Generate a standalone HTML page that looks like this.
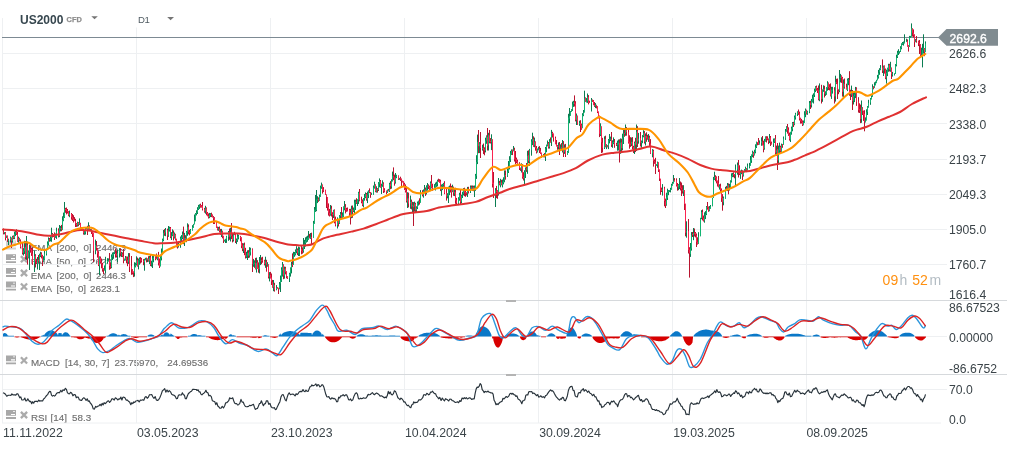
<!DOCTYPE html>
<html><head><meta charset="utf-8"><title>US2000 chart</title>
<style>
html,body{margin:0;padding:0;background:#fff;}
body{width:1009px;height:449px;overflow:hidden;position:relative;font-family:"Liberation Sans",Arial,sans-serif;}
#chart{position:absolute;left:0;top:0;}
#txt{position:absolute;left:0;top:0;}
text{font-family:"Liberation Sans",Arial,sans-serif;}
.ax{font-size:12.2px;fill:#3b4449;}
.dt{font-size:12.3px;fill:#3b4449;}
.lg{font-size:9.8px;fill:#707070;stroke:#707070;stroke-width:0.15px;}
</style></head><body>
<svg id="lgd" width="1009" height="449" viewBox="0 0 1009 449" style="position:absolute;left:0;top:0">
<!-- legends -->
<g id="lgicons">
<path d="M6 240.5h10v5.8h-10z M6 247.6h10v1.8h-10z" fill="#cfcfcf"/><path d="M11 244.4h4v1.1h-4z M13 241.6h2v0.7h-2z" fill="#fff"/><path d="M20.9 242.4L27.1 248.6M27.1 242.4L20.9 248.6" stroke="#d4d4d4" stroke-width="2.3"/><path d="M6 254.2h10v5.8h-10z M6 261.3h10v1.8h-10z" fill="#a8a8a8"/><path d="M11 258.1h4v1.1h-4z M13 255.3h2v0.7h-2z" fill="#fff"/><path d="M20.9 256.1L27.1 262.3M27.1 256.1L20.9 262.3" stroke="#ababab" stroke-width="2.3"/><path d="M6 268.0h10v5.8h-10z M6 275.1h10v1.8h-10z" fill="#a8a8a8"/><path d="M11 271.9h4v1.1h-4z M13 269.1h2v0.7h-2z" fill="#fff"/><path d="M20.9 269.9L27.1 276.1M27.1 269.9L20.9 276.1" stroke="#ababab" stroke-width="2.3"/><path d="M6 281.6h10v5.8h-10z M6 288.7h10v1.8h-10z" fill="#a8a8a8"/><path d="M11 285.5h4v1.1h-4z M13 282.7h2v0.7h-2z" fill="#fff"/><path d="M20.9 283.5L27.1 289.7M27.1 283.5L20.9 289.7" stroke="#ababab" stroke-width="2.3"/><path d="M6 355.4h10v5.8h-10z M6 362.5h10v1.8h-10z" fill="#a8a8a8"/><path d="M11 359.3h4v1.1h-4z M13 356.5h2v0.7h-2z" fill="#fff"/><path d="M20.9 357.3L27.1 363.5M27.1 357.3L20.9 363.5" stroke="#ababab" stroke-width="2.3"/><path d="M6 410.0h10v5.8h-10z M6 417.1h10v1.8h-10z" fill="#a8a8a8"/><path d="M11 413.9h4v1.1h-4z M13 411.1h2v0.7h-2z" fill="#fff"/><path d="M20.9 411.9L27.1 418.1M27.1 411.9L20.9 418.1" stroke="#ababab" stroke-width="2.3"/>
</g>
<g class="lg">
<text x="30.8" y="251.1">EMA</text><text x="56.6" y="251.1">[200,</text><text x="83.4" y="251.1">0]</text><text x="96" y="251.1">2446.3</text>
<text x="30.8" y="264.8">EMA</text><text x="56.6" y="264.8">[50,</text><text x="77.9" y="264.8">0]</text><text x="90" y="264.8">2623.1</text>
<text x="30.8" y="278.6">EMA</text><text x="56.6" y="278.6">[200,</text><text x="83.4" y="278.6">0]</text><text x="96" y="278.6">2446.3</text>
<text x="30.8" y="292.2">EMA</text><text x="56.6" y="292.2">[50,</text><text x="77.9" y="292.2">0]</text><text x="90" y="292.2">2623.1</text>
<text x="30.9" y="366">MACD</text><text x="65.1" y="366">[14,</text><text x="84.4" y="366">30,</text><text x="101.3" y="366">7]</text><text x="114.6" y="366">23.75970,</text><text x="167.3" y="366">24.69536</text>
<text x="30.9" y="420.6">RSI</text><text x="50.6" y="420.6">[14]</text><text x="72.1" y="420.6">58.3</text>
</g>
</svg>
<div id="chart"><svg width="1009" height="449" viewBox="0 0 1009 449">
<path d="M2 53.5H947 M2 88.5H947 M2 123.5H947 M2 159.5H947 M2 194.5H947 M2 229.5H947 M2 264.5H947 M2.5 18V423 M136.5 18V423 M270.5 18V423 M404.5 18V423 M538.5 18V423 M672.5 18V423 M806.5 18V423 M2 336.5H947 M2 389.5H947 M2 423H941 " stroke="#eef0f2" stroke-width="1" fill="none"/>
<path d="M0 300.5H1007 M0 374.5H1007" stroke="#d6d9dc" stroke-width="1"/>
<rect x="506" y="300" width="10" height="2" fill="#b4b4b4"/>
<rect x="506" y="374" width="10" height="2" fill="#b4b4b4"/>
<path d="M2 37.5H940" stroke="#7d8a93" stroke-width="1.2"/>
<path d="M4.5 232.2V234.3M6.5 235.5V237.9M8.5 238.7V245.0M10.5 236.6V242.5M12.5 235.8V242.6M14.5 231.6V239.1M15.5 230.7V236.1M18.5 236.6V242.8M23.5 248.1V255.5M24.5 240.8V254.0M26.5 236.0V259.9M28.5 250.4V258.4M29.5 244.7V270.0M34.5 250.5V272.0M37.5 257.0V269.5M39.5 253.7V270.0M40.5 251.8V257.1M43.5 256.2V261.7M44.5 250.7V260.0M46.5 249.0V255.5M47.5 241.4V249.8M48.5 237.4V245.1M50.5 236.1V241.4M51.5 227.7V241.8M55.5 233.5V237.8M56.5 227.7V238.9M59.5 225.0V237.1M60.5 225.9V231.4M62.5 216.3V230.1M63.5 212.6V221.2M64.5 202.0V217.9M69.5 210.6V217.2M77.5 221.7V226.6M79.5 218.4V224.9M84.5 231.1V234.8M85.5 227.6V234.5M86.5 227.5V229.4M88.5 222.3V230.9M90.5 228.9V230.8M95.5 239.6V254.3M99.5 256.4V275.0M104.5 265.4V270.5M105.5 256.8V273.3M107.5 258.2V263.5M108.5 258.4V261.1M111.5 254.4V268.2M112.5 252.5V260.1M113.5 252.2V258.8M114.5 251.3V254.1M117.5 249.5V262.0M119.5 248.2V257.5M121.5 251.8V257.0M124.5 258.6V260.8M125.5 256.0V260.5M128.5 253.1V263.9M134.5 262.2V276.6M135.5 262.7V267.4M136.5 256.3V265.5M138.5 258.6V269.4M139.5 257.4V264.8M144.5 258.8V270.7M145.5 257.8V260.3M147.5 258.5V262.1M149.5 256.0V264.1M151.5 260.7V266.6M152.5 255.7V268.0M153.5 254.7V262.3M157.5 255.2V260.3M160.5 254.7V266.3M161.5 248.5V260.4M162.5 238.6V254.5M163.5 230.0V241.2M165.5 228.0V236.2M168.5 226.0V236.8M169.5 226.7V231.6M171.5 232.1V240.0M172.5 229.3V236.2M174.5 232.5V238.5M178.5 242.2V247.5M180.5 236.5V247.8M181.5 235.1V242.0M182.5 231.5V239.2M184.5 232.9V246.0M186.5 230.9V242.2M187.5 223.3V235.8M190.5 229.0V233.8M192.5 225.2V230.5M193.5 223.9V227.7M194.5 214.5V224.4M195.5 213.1V221.3M196.5 210.3V215.4M197.5 207.2V214.0M198.5 204.9V210.0M199.5 204.3V208.9M205.5 205.8V213.7M209.5 212.9V218.2M210.5 213.1V217.1M218.5 226.9V230.8M221.5 228.9V237.0M224.5 239.7V241.4M225.5 238.8V243.0M226.5 235.8V242.9M228.5 231.0V240.8M230.5 227.8V241.5M233.5 233.1V241.5M236.5 238.5V244.1M237.5 233.9V241.9M238.5 234.7V239.4M243.5 243.3V253.0M246.5 251.8V258.1M247.5 250.3V260.0M249.5 247.2V257.6M250.5 247.7V255.5M253.5 258.9V266.8M254.5 260.3V267.8M256.5 257.6V272.6M259.5 257.0V273.4M260.5 255.0V265.1M265.5 256.7V267.8M267.5 262.2V266.7M269.5 272.1V281.4M273.5 280.0V291.2M276.5 285.1V290.3M279.5 282.0V289.3M280.5 275.5V292.0M281.5 267.3V281.9M282.5 262.0V276.6M284.5 266.6V278.7M289.5 272.8V282.0M290.5 267.4V276.6M291.5 261.8V273.4M293.5 251.8V265.0M294.5 252.0V256.8M295.5 249.4V255.4M296.5 246.2V253.3M298.5 246.6V256.0M299.5 247.2V256.0M303.5 238.0V252.7M304.5 239.9V249.0M305.5 237.3V246.6M306.5 236.5V242.6M307.5 235.7V241.8M308.5 231.0V239.8M310.5 233.0V238.9M313.5 220.9V237.7M314.5 207.0V223.7M315.5 195.0V211.9M316.5 190.0V211.2M317.5 196.2V203.1M319.5 194.6V200.8M320.5 185.6V196.8M321.5 182.6V188.8M330.5 205.0V215.7M333.5 209.8V218.0M337.5 217.4V228.5M339.5 215.1V224.0M340.5 212.0V220.0M342.5 212.4V218.5M343.5 206.4V216.9M344.5 201.0V210.3M351.5 205.7V218.2M353.5 207.5V212.1M354.5 199.7V213.7M355.5 199.7V210.0M357.5 199.3V206.0M358.5 191.8V204.0M363.5 198.0V207.3M364.5 194.0V200.7M365.5 192.4V198.2M367.5 191.6V203.1M368.5 190.3V198.1M371.5 192.7V195.0M373.5 185.5V194.8M374.5 181.7V188.6M376.5 186.3V192.6M378.5 182.1V191.0M379.5 178.4V187.3M381.5 183.7V194.0M382.5 180.3V186.8M387.5 189.6V193.0M389.5 182.8V192.0M391.5 179.3V188.7M392.5 171.6V181.5M395.5 173.0V183.6M396.5 174.8V178.2M399.5 177.9V179.9M407.5 192.2V208.0M410.5 195.6V208.8M412.5 201.8V212.2M414.5 201.6V211.7M416.5 206.3V212.3M417.5 201.5V209.1M418.5 200.6V205.6M420.5 190.1V202.6M423.5 189.4V197.7M424.5 185.0V192.6M426.5 185.3V194.5M427.5 183.0V190.7M430.5 181.4V191.1M434.5 184.1V189.1M435.5 182.6V190.5M436.5 181.7V186.9M437.5 179.7V186.4M441.5 184.5V195.8M442.5 183.9V190.1M443.5 182.9V186.8M447.5 193.2V198.3M448.5 186.6V203.0M449.5 185.6V195.2M452.5 184.7V192.2M454.5 188.7V196.1M458.5 197.2V205.1M459.5 192.8V200.7M461.5 194.7V203.3M462.5 191.8V198.0M463.5 188.1V195.4M467.5 186.9V197.0M470.5 185.5V193.0M472.5 185.5V190.9M474.5 185.5V197.0M475.5 173.9V190.8M476.5 155.2V178.9M477.5 134.6V164.1M479.5 142.1V153.1M482.5 144.7V150.6M485.5 137.7V152.4M486.5 135.4V143.8M488.5 132.8V150.5M491.5 134.3V150.1M495.5 188.1V207.0M498.5 178.0V195.6M500.5 178.8V187.3M502.5 179.5V187.4M503.5 177.3V184.4M504.5 170.4V182.3M507.5 168.3V176.9M508.5 161.0V173.0M509.5 156.2V169.4M510.5 150.9V162.0M511.5 149.4V154.9M513.5 146.0V151.3M521.5 163.3V172.5M524.5 170.2V185.4M525.5 167.4V178.0M527.5 150.8V173.8M529.5 148.9V165.9M531.5 139.2V155.7M532.5 132.7V145.1M534.5 137.6V147.3M537.5 148.5V152.5M538.5 146.8V150.3M543.5 154.1V157.3M545.5 147.0V161.0M546.5 144.6V152.2M547.5 140.5V146.3M549.5 139.1V148.6M551.5 129.9V146.0M558.5 142.5V149.6M560.5 144.4V150.1M562.5 140.0V152.5M564.5 144.4V153.9M567.5 150.9V155.0M568.5 113.8V152.8M569.5 108.0V123.2M570.5 111.1V115.7M571.5 109.2V111.8M572.5 101.6V110.9M573.5 100.8V106.9M576.5 113.5V125.0M579.5 120.7V125.8M582.5 113.2V128.1M583.5 110.0V116.2M584.5 90.7V112.4M586.5 98.1V102.5M587.5 93.5V102.9M591.5 98.0V111.5M595.5 103.1V108.1M600.5 123.3V136.0M604.5 136.3V149.0M606.5 144.2V149.1M608.5 139.0V149.1M609.5 134.0V143.4M610.5 136.6V141.0M612.5 140.3V147.8M613.5 137.4V144.2M617.5 140.6V150.7M618.5 139.5V150.5M620.5 138.4V153.8M622.5 133.7V150.3M623.5 128.2V144.0M625.5 124.5V135.8M631.5 137.5V146.1M634.5 141.6V154.0M636.5 124.5V151.0M638.5 132.9V143.7M641.5 140.5V147.8M642.5 135.1V143.2M643.5 130.2V137.3M645.5 133.4V145.5M648.5 134.0V141.9M652.5 149.1V157.3M656.5 164.2V165.8M657.5 161.5V167.8M662.5 184.1V195.6M666.5 192.7V205.7M667.5 188.7V200.0M668.5 190.1V195.2M669.5 190.1V192.1M670.5 187.8V192.4M671.5 183.8V189.7M672.5 181.9V185.6M673.5 175.0V183.6M678.5 184.1V190.2M679.5 178.0V189.1M683.5 185.2V196.0M686.5 221.3V237.7M690.5 243.0V256.9M691.5 232.1V250.6M693.5 228.0V240.2M698.5 232.2V243.8M700.5 217.8V236.2M701.5 210.2V219.2M704.5 212.3V222.7M705.5 211.1V219.1M706.5 206.0V215.1M709.5 206.0V211.3M710.5 205.0V208.7M712.5 197.8V206.2M713.5 176.9V198.0M714.5 171.7V180.0M719.5 184.3V189.6M723.5 196.5V205.3M725.5 186.8V198.7M727.5 183.0V191.1M729.5 183.9V190.5M730.5 180.3V188.1M731.5 173.3V182.5M732.5 173.0V177.2M735.5 164.5V185.0M737.5 162.5V174.7M740.5 170.6V178.9M741.5 169.6V174.2M743.5 170.9V176.5M744.5 169.1V172.3M745.5 166.7V171.2M747.5 163.5V170.6M749.5 162.9V168.4M750.5 156.0V165.7M751.5 154.4V162.9M752.5 150.7V157.2M754.5 149.7V155.5M755.5 144.3V153.3M756.5 141.6V148.0M759.5 140.4V144.6M761.5 137.3V145.8M764.5 138.9V149.7M765.5 136.4V141.7M769.5 134.0V143.1M773.5 138.5V147.0M774.5 138.4V143.0M776.5 145.6V155.8M778.5 145.6V164.5M779.5 142.6V154.1M781.5 143.6V151.8M783.5 136.5V144.7M785.5 129.0V139.9M786.5 126.2V131.7M790.5 131.8V142.0M791.5 126.6V134.7M792.5 122.0V131.3M794.5 115.5V125.2M795.5 112.8V119.6M797.5 111.3V116.0M803.5 120.5V125.2M804.5 111.2V122.9M805.5 108.5V117.2M807.5 110.8V114.8M809.5 101.0V113.2M811.5 98.9V107.5M812.5 94.7V102.5M813.5 93.3V103.5M814.5 88.6V97.0M815.5 86.2V92.1M819.5 83.4V101.2M822.5 89.4V101.8M823.5 85.3V91.8M825.5 91.3V95.9M826.5 87.2V94.8M827.5 81.2V90.7M831.5 86.8V98.9M832.5 86.8V93.6M835.5 75.7V101.6M839.5 70.0V92.2M840.5 73.9V82.4M843.5 79.4V99.0M847.5 78.5V91.1M848.5 78.0V85.2M851.5 85.6V97.0M853.5 92.4V104.5M854.5 91.4V102.1M855.5 86.9V98.1M861.5 100.5V122.8M865.5 117.4V122.5M866.5 109.3V120.4M867.5 106.1V115.0M868.5 99.8V107.7M870.5 98.0V104.8M871.5 95.4V99.5M872.5 84.3V96.7M874.5 82.3V87.8M875.5 81.5V85.4M876.5 79.8V83.1M877.5 74.9V80.3M878.5 69.9V78.6M879.5 68.2V74.8M880.5 65.1V70.2M883.5 65.6V76.0M886.5 69.7V83.6M887.5 67.7V76.1M888.5 63.8V71.8M890.5 61.8V71.8M892.5 71.9V76.6M894.5 73.4V75.5M895.5 64.1V74.0M896.5 54.7V66.4M897.5 50.8V58.0M898.5 49.2V55.0M899.5 51.4V53.6M900.5 46.2V52.0M901.5 43.3V49.3M902.5 42.0V45.1M903.5 41.5V45.6M904.5 34.3V43.5M906.5 38.7V42.1M909.5 35.9V47.0M910.5 35.9V37.9M911.5 23.4V36.6M915.5 39.1V42.2M921.5 47.7V56.3M922.5 43.8V67.4M923.5 34.3V53.6M925.5 41.4V52.1" stroke="#0b7d52" stroke-width="1" fill="none"/>
<path d="M3.5 228.5V234.4M5.5 232.1V240.4M7.5 235.5V241.9M11.5 237.5V248.0M13.5 235.4V239.2M16.5 229.3V234.9M17.5 232.0V241.8M19.5 237.8V241.4M20.5 239.4V248.4M22.5 242.0V254.5M25.5 241.0V259.4M27.5 241.6V264.6M30.5 245.2V252.7M31.5 248.0V255.9M32.5 247.4V264.8M35.5 254.2V267.5M36.5 258.8V264.0M38.5 255.0V262.7M41.5 252.3V258.4M42.5 254.8V266.0M49.5 238.0V241.7M52.5 233.0V237.5M53.5 234.1V237.0M54.5 232.4V240.0M58.5 228.3V237.4M61.5 224.9V231.2M65.5 207.9V212.8M66.5 207.5V214.4M67.5 209.0V213.5M68.5 211.2V216.2M71.5 213.0V219.7M72.5 214.0V221.0M73.5 215.2V222.5M74.5 217.1V221.2M75.5 218.8V227.0M76.5 223.1V226.9M78.5 222.1V226.2M80.5 222.8V229.3M81.5 227.0V230.3M83.5 229.2V234.6M87.5 225.8V235.0M89.5 225.3V230.5M91.5 229.2V234.0M92.5 231.8V237.0M93.5 232.9V262.0M96.5 241.0V250.3M97.5 247.9V257.6M98.5 251.2V266.1M100.5 256.5V263.5M101.5 258.5V268.3M102.5 263.0V271.7M103.5 268.2V274.1M109.5 253.0V269.8M110.5 262.6V268.9M115.5 248.5V257.6M116.5 250.6V257.5M120.5 248.2V256.4M122.5 252.4V257.1M123.5 249.0V263.3M126.5 256.5V263.3M127.5 256.5V266.2M129.5 253.1V272.0M131.5 256.0V274.8M132.5 269.2V274.5M133.5 271.4V277.1M137.5 257.6V266.6M140.5 257.1V263.5M141.5 257.9V262.5M143.5 259.1V265.2M146.5 257.6V262.4M148.5 256.2V261.7M150.5 255.1V266.1M155.5 256.2V260.3M156.5 253.5V259.2M158.5 251.9V265.5M159.5 258.5V268.0M164.5 229.1V235.8M167.5 228.7V240.0M170.5 227.0V238.2M173.5 230.5V240.4M175.5 233.8V240.4M176.5 238.7V247.3M177.5 243.2V248.6M183.5 226.6V244.2M185.5 235.2V241.5M188.5 224.4V234.3M189.5 229.8V235.4M200.5 203.7V207.7M201.5 205.1V207.6M202.5 202.0V210.5M204.5 207.9V212.6M206.5 207.4V215.3M207.5 212.0V216.3M208.5 213.4V218.5M211.5 212.7V217.1M212.5 214.4V217.5M213.5 216.1V224.0M214.5 217.2V224.0M216.5 221.0V227.8M217.5 226.6V230.5M219.5 226.5V232.5M220.5 228.9V234.8M222.5 230.7V238.3M223.5 235.8V243.0M229.5 228.5V239.8M231.5 223.0V239.1M232.5 233.8V242.4M234.5 231.8V235.1M235.5 233.5V243.0M240.5 235.9V241.3M241.5 237.3V248.2M242.5 243.1V251.2M244.5 242.6V255.2M245.5 247.8V258.5M248.5 250.1V258.0M252.5 248.4V272.0M255.5 257.9V269.4M257.5 260.1V268.8M258.5 262.4V272.7M261.5 257.4V264.2M262.5 256.8V262.7M264.5 259.8V265.4M266.5 259.8V271.7M268.5 264.3V278.5M270.5 271.9V278.5M271.5 273.5V285.0M272.5 279.9V287.7M274.5 282.8V291.6M277.5 287.1V288.6M278.5 287.8V294.0M283.5 264.3V279.2M285.5 266.8V274.4M286.5 271.3V278.3M287.5 276.3V278.9M292.5 253.4V267.1M297.5 248.4V255.1M301.5 245.5V254.3M302.5 247.3V253.7M309.5 233.9V238.4M311.5 232.7V244.0M318.5 197.4V201.8M322.5 184.5V193.6M323.5 187.1V192.1M325.5 189.7V194.9M326.5 194.4V208.0M327.5 197.0V210.6M328.5 203.4V215.6M329.5 208.9V216.5M331.5 205.7V216.5M332.5 212.2V220.0M334.5 209.4V223.4M335.5 216.6V226.4M338.5 219.2V226.5M341.5 207.0V218.1M345.5 204.1V213.4M346.5 207.8V211.8M347.5 207.5V211.4M349.5 208.9V216.2M350.5 208.8V224.5M352.5 205.5V217.8M356.5 198.2V203.9M359.5 189.0V201.3M361.5 196.7V203.3M362.5 199.4V206.2M366.5 193.0V200.7M369.5 188.4V193.1M370.5 192.0V197.8M375.5 184.3V192.2M377.5 188.1V192.6M380.5 180.0V187.7M383.5 182.3V193.0M384.5 188.2V192.4M386.5 190.5V194.3M388.5 188.9V191.3M390.5 181.1V189.2M393.5 167.4V180.2M394.5 174.6V185.7M398.5 175.4V180.0M400.5 176.7V180.9M401.5 178.5V186.0M402.5 180.7V182.5M403.5 181.3V186.6M404.5 182.8V189.9M405.5 184.4V192.5M406.5 186.3V202.5M408.5 192.6V207.4M411.5 199.6V209.4M413.5 202.1V226.0M415.5 202.8V212.2M419.5 198.3V204.6M422.5 190.2V196.4M425.5 187.5V195.9M428.5 184.4V189.1M429.5 185.7V190.3M431.5 175.0V188.4M432.5 183.7V190.8M438.5 178.7V182.0M439.5 179.2V182.8M440.5 179.7V191.1M444.5 181.2V194.2M446.5 187.6V200.6M450.5 183.5V192.5M451.5 185.9V197.6M453.5 186.6V195.8M455.5 187.8V203.8M456.5 197.9V204.9M460.5 190.0V204.2M464.5 187.7V196.2M465.5 190.2V196.8M466.5 192.3V195.5M468.5 186.8V193.5M471.5 185.5V190.0M473.5 185.7V191.2M478.5 130.0V153.2M480.5 132.0V158.0M483.5 143.5V154.1M484.5 147.3V155.3M487.5 128.0V150.5M489.5 130.0V143.3M490.5 138.1V143.5M492.5 139.4V187.5M493.5 172.0V198.0M496.5 185.9V198.1M497.5 190.2V198.8M499.5 180.9V185.3M501.5 179.8V185.3M505.5 170.4V179.7M512.5 149.5V155.1M514.5 147.7V161.5M515.5 151.0V164.0M516.5 157.6V163.2M517.5 159.6V164.9M519.5 162.2V170.0M520.5 167.6V170.9M522.5 164.1V178.7M523.5 172.2V180.5M526.5 163.0V171.9M528.5 150.3V163.2M533.5 136.3V146.8M535.5 141.4V150.7M536.5 146.0V153.5M539.5 146.1V153.0M540.5 147.9V153.9M541.5 152.6V157.9M544.5 153.0V157.4M548.5 142.0V148.6M550.5 137.4V142.7M552.5 131.8V137.5M553.5 133.6V141.6M555.5 136.6V144.3M556.5 140.0V146.5M557.5 145.1V149.8M559.5 142.0V155.0M561.5 143.1V150.2M563.5 141.1V157.0M565.5 143.9V157.0M574.5 95.4V106.5M575.5 101.2V121.4M577.5 115.7V124.8M580.5 120.2V132.0M581.5 123.6V129.8M585.5 97.4V101.8M588.5 95.1V104.4M589.5 100.7V103.0M592.5 99.5V101.9M593.5 100.1V105.2M594.5 102.0V106.9M596.5 104.8V108.4M597.5 106.3V113.1M598.5 111.6V118.4M599.5 115.6V137.1M601.5 126.5V153.0M602.5 137.8V152.5M605.5 135.7V147.3M607.5 145.2V147.3M611.5 132.0V146.9M614.5 139.0V147.8M616.5 142.8V146.0M619.5 139.3V162.5M621.5 138.7V153.1M624.5 128.8V136.8M626.5 127.1V135.7M628.5 129.1V143.6M629.5 135.3V148.7M630.5 137.2V146.9M632.5 137.1V149.5M633.5 145.8V153.0M635.5 137.8V152.1M637.5 126.2V147.0M640.5 132.0V146.5M644.5 131.1V143.6M646.5 132.3V141.8M647.5 134.8V139.7M649.5 135.7V145.9M650.5 139.1V153.9M653.5 149.7V166.6M654.5 159.4V163.8M655.5 157.8V174.0M658.5 162.4V172.0M659.5 169.6V181.0M660.5 178.8V194.8M661.5 187.6V192.0M664.5 186.8V206.3M665.5 198.6V208.0M674.5 178.1V181.6M676.5 178.3V186.5M677.5 183.0V190.7M680.5 181.5V190.5M681.5 182.5V196.0M682.5 185.2V193.6M684.5 190.0V210.0M685.5 203.8V236.3M688.5 219.0V253.5M689.5 247.2V277.6M692.5 232.0V237.0M694.5 228.5V236.5M695.5 232.0V237.4M696.5 233.5V247.0M697.5 237.3V244.6M702.5 209.5V220.4M703.5 215.5V221.5M707.5 202.0V209.7M708.5 206.5V211.8M715.5 175.2V181.3M716.5 176.4V183.4M717.5 180.5V186.5M718.5 176.0V187.4M720.5 183.7V193.1M721.5 188.4V201.9M722.5 194.1V210.7M726.5 185.9V189.7M728.5 183.4V194.3M733.5 172.3V177.2M734.5 174.1V178.3M738.5 160.0V177.5M739.5 165.3V175.1M742.5 170.3V180.0M746.5 168.2V172.1M753.5 151.8V157.8M757.5 142.1V145.3M758.5 138.0V144.9M762.5 136.0V145.5M763.5 140.7V152.3M766.5 136.2V142.5M767.5 136.3V140.3M768.5 138.5V144.1M770.5 136.0V146.0M771.5 141.6V144.6M775.5 135.0V156.0M777.5 143.0V170.0M780.5 145.7V152.6M782.5 144.1V147.8M787.5 124.0V133.6M788.5 127.3V135.9M789.5 132.6V140.6M793.5 121.8V127.0M798.5 109.5V114.9M799.5 111.6V120.5M800.5 117.7V123.6M801.5 118.9V123.5M802.5 120.4V126.0M806.5 109.7V114.5M810.5 100.8V109.0M816.5 85.6V90.7M817.5 87.9V93.0M818.5 85.5V100.3M821.5 84.8V103.5M824.5 85.8V97.5M828.5 82.5V90.0M829.5 84.2V90.4M830.5 83.4V96.4M834.5 87.2V103.5M836.5 78.8V84.1M837.5 78.5V99.0M838.5 89.3V94.2M841.5 75.4V82.9M842.5 76.9V96.6M844.5 78.5V88.7M846.5 83.7V89.6M849.5 71.2V95.8M850.5 89.7V100.0M852.5 90.0V110.0M856.5 87.3V105.9M858.5 97.2V112.6M859.5 103.3V113.0M860.5 104.6V123.1M862.5 107.2V115.0M863.5 110.6V120.9M864.5 110.2V131.3M873.5 86.3V89.3M882.5 59.4V73.0M884.5 65.4V73.6M885.5 68.5V79.2M889.5 63.8V71.4M891.5 67.5V79.0M907.5 39.4V46.7M908.5 45.2V51.6M912.5 28.3V36.6M913.5 29.4V37.5M914.5 34.3V47.0M916.5 36.0V42.7M918.5 40.6V46.1M919.5 40.0V54.0M920.5 44.2V57.1M924.5 48.1V56.2" stroke="#b8142f" stroke-width="1" fill="none"/>
<path d="M4.5 232.2V233.2M6.5 236.4V237.4M8.5 239.8V240.8M10.5 237.7V239.9M12.5 236.8V241.0M14.5 234.0V238.1M15.5 232.1V233.5M18.5 238.3V240.5M23.5 250.5V252.8M24.5 247.5V251.2M26.5 244.4V256.2M28.5 252.2V257.7M29.5 249.8V252.3M34.5 256.1V263.5M37.5 259.7V263.9M39.5 255.3V261.8M40.5 254.1V255.8M43.5 259.6V261.3M44.5 253.5V259.6M46.5 249.7V253.8M47.5 243.6V249.7M48.5 239.4V243.5M50.5 238.3V239.6M51.5 234.0V238.0M55.5 236.2V237.2M56.5 231.0V236.6M59.5 228.2V236.2M60.5 228.0V229.0M62.5 220.1V230.0M63.5 217.1V220.5M64.5 208.7V217.0M69.5 213.4V215.1M77.5 222.7V225.3M79.5 223.1V224.2M84.5 232.4V233.4M85.5 228.5V232.3M86.5 227.4V228.4M88.5 226.1V230.0M90.5 229.5V230.5M95.5 244.9V250.4M99.5 257.0V265.7M104.5 269.4V270.4M105.5 261.4V270.5M107.5 261.0V262.0M108.5 259.8V260.8M111.5 256.9V267.3M112.5 254.1V256.9M113.5 253.5V254.7M114.5 252.3V253.3M117.5 253.2V255.6M119.5 250.1V253.5M121.5 253.4V254.4M124.5 259.0V260.0M125.5 257.8V259.6M128.5 256.4V261.7M134.5 266.2V273.1M135.5 264.7V266.4M136.5 260.3V264.0M138.5 260.4V265.7M139.5 259.2V260.2M144.5 259.9V262.2M145.5 258.8V259.8M147.5 258.8V260.0M149.5 257.6V260.7M151.5 263.5V264.5M152.5 258.5V263.2M153.5 257.8V258.8M157.5 255.7V259.0M160.5 257.7V266.3M161.5 252.3V258.1M162.5 239.8V252.0M163.5 232.9V240.0M165.5 230.1V232.5M168.5 230.4V235.8M169.5 227.9V230.0M171.5 235.6V236.6M172.5 233.1V235.5M174.5 234.4V237.5M178.5 244.3V246.6M180.5 238.5V244.4M181.5 237.4V239.1M182.5 233.9V237.8M184.5 237.8V240.3M186.5 231.9V239.6M187.5 227.2V232.3M190.5 230.1V233.8M192.5 227.1V230.5M193.5 224.4V227.7M194.5 220.8V224.1M195.5 213.7V220.8M196.5 212.5V213.8M197.5 209.3V212.6M198.5 206.6V209.2M199.5 205.5V206.7M205.5 208.3V211.3M209.5 214.7V217.3M210.5 214.2V215.2M218.5 228.4V229.4M221.5 231.6V234.7M224.5 240.3V241.3M225.5 239.5V240.5M226.5 236.6V239.6M228.5 232.0V237.0M230.5 231.9V237.2M233.5 234.7V240.1M236.5 240.2V241.2M237.5 236.8V240.2M238.5 236.3V237.3M243.5 244.8V249.2M246.5 255.5V256.5M247.5 253.0V255.7M249.5 251.8V255.7M250.5 249.8V252.4M253.5 263.7V264.7M254.5 262.6V263.8M256.5 263.0V269.1M259.5 261.4V269.3M260.5 260.3V261.6M265.5 261.6V263.6M267.5 264.6V265.6M269.5 275.5V276.6M273.5 284.4V287.2M276.5 287.8V289.2M279.5 284.3V288.6M280.5 280.1V283.4M281.5 269.6V280.7M282.5 264.8V270.2M284.5 268.7V275.7M289.5 273.7V278.3M290.5 268.3V273.7M291.5 265.2V268.5M293.5 254.5V265.0M294.5 253.7V254.7M295.5 251.2V254.3M296.5 249.6V250.8M298.5 250.3V253.3M299.5 249.2V250.2M303.5 244.8V251.2M304.5 243.7V244.9M305.5 240.8V243.1M306.5 238.8V241.3M307.5 238.5V239.5M308.5 237.0V239.2M310.5 236.7V237.7M313.5 223.2V237.7M314.5 209.7V223.7M315.5 209.6V210.6M316.5 199.5V210.0M317.5 198.8V199.8M319.5 196.3V200.8M320.5 187.7V196.2M321.5 185.3V187.2M330.5 209.0V214.6M333.5 210.4V215.3M337.5 220.2V225.0M339.5 216.3V223.8M340.5 213.8V216.0M342.5 215.6V217.9M343.5 207.0V216.2M344.5 206.7V207.7M351.5 209.1V216.9M353.5 209.8V211.2M354.5 202.5V210.5M355.5 201.6V202.6M357.5 199.9V202.4M358.5 192.7V200.0M363.5 198.6V205.3M364.5 197.2V198.2M365.5 194.3V197.0M367.5 195.2V199.7M368.5 191.5V194.8M371.5 193.5V194.7M373.5 187.6V193.8M374.5 185.0V187.5M376.5 189.3V191.5M378.5 183.5V189.9M379.5 181.1V183.7M381.5 185.8V187.4M382.5 183.2V185.2M387.5 190.3V192.6M389.5 184.2V191.1M391.5 181.0V186.6M392.5 175.7V180.8M395.5 177.3V182.3M396.5 175.5V176.9M399.5 178.6V179.6M407.5 198.5V201.6M410.5 202.0V203.4M412.5 204.8V206.6M414.5 203.6V206.5M416.5 207.8V210.2M417.5 202.9V207.4M418.5 201.2V202.5M420.5 193.3V202.6M423.5 190.8V195.3M424.5 189.5V191.3M426.5 186.9V191.5M427.5 185.6V186.6M430.5 183.1V188.9M434.5 187.1V188.1M435.5 185.0V187.7M436.5 184.2V185.2M437.5 181.0V183.8M441.5 186.2V190.1M442.5 184.6V185.7M443.5 183.6V184.6M447.5 195.2V196.2M448.5 190.3V195.7M449.5 188.8V190.8M452.5 189.5V191.8M454.5 191.9V193.6M458.5 198.8V203.3M459.5 194.8V198.9M461.5 195.8V201.7M462.5 194.4V195.4M463.5 190.1V193.9M467.5 190.2V193.3M470.5 187.4V191.6M472.5 187.5V189.1M474.5 187.4V189.8M475.5 175.6V188.2M476.5 161.9V175.9M477.5 142.0V162.0M479.5 143.5V146.3M482.5 148.1V149.1M485.5 140.5V150.7M486.5 136.3V140.7M488.5 135.2V145.0M491.5 139.0V142.0M495.5 190.2V194.4M498.5 183.4V193.2M500.5 182.4V184.9M502.5 182.8V185.2M503.5 180.8V182.8M504.5 175.4V180.1M507.5 171.5V175.8M508.5 168.2V171.5M509.5 159.8V168.0M510.5 153.4V159.5M511.5 150.8V153.8M513.5 149.6V150.6M521.5 164.5V169.6M524.5 172.1V178.7M525.5 169.5V172.2M527.5 155.8V170.4M529.5 150.3V161.9M531.5 141.5V150.3M532.5 139.2V141.3M534.5 142.0V145.4M537.5 149.6V151.6M538.5 148.7V149.7M543.5 155.1V156.1M545.5 148.6V156.7M546.5 145.4V148.2M547.5 143.8V145.7M549.5 141.3V147.0M551.5 133.3V141.9M558.5 145.8V146.8M560.5 147.8V148.8M562.5 143.8V148.7M564.5 147.5V151.9M567.5 151.7V155.0M568.5 117.6V152.8M569.5 116.0V118.7M570.5 111.6V115.7M571.5 110.1V111.5M572.5 104.5V109.6M573.5 102.4V104.1M576.5 115.8V119.9M579.5 123.0V124.0M582.5 114.9V128.1M583.5 112.6V115.2M584.5 98.4V112.4M586.5 100.7V101.9M587.5 97.2V101.0M591.5 100.3V103.1M595.5 104.8V105.8M600.5 126.3V134.8M604.5 139.1V147.9M606.5 145.3V146.8M608.5 140.1V146.6M609.5 138.8V139.8M610.5 138.6V139.6M612.5 142.5V144.6M613.5 142.0V143.0M617.5 143.7V144.8M618.5 142.5V144.5M620.5 142.7V149.9M622.5 137.7V148.2M623.5 133.5V137.5M625.5 129.9V133.2M631.5 141.9V143.7M634.5 143.0V150.0M636.5 131.8V144.8M638.5 138.7V140.6M641.5 141.7V143.1M642.5 136.7V141.0M643.5 133.0V136.0M645.5 136.0V142.1M648.5 137.7V138.7M652.5 150.3V153.4M656.5 164.3V165.3M657.5 162.6V165.1M662.5 189.2V190.9M666.5 197.4V204.8M667.5 191.8V197.9M668.5 190.9V191.9M669.5 190.4V191.4M670.5 189.4V190.4M671.5 185.2V189.4M672.5 183.2V185.3M673.5 180.8V183.1M678.5 184.7V187.4M679.5 184.6V185.6M683.5 189.6V191.7M686.5 231.4V232.4M690.5 248.4V254.1M691.5 235.2V248.6M693.5 233.0V235.0M698.5 236.5V243.8M700.5 218.3V236.2M701.5 212.1V218.0M704.5 216.1V220.7M705.5 214.3V215.6M706.5 206.8V214.1M709.5 208.4V210.6M710.5 206.3V208.6M712.5 198.3V206.2M713.5 179.9V198.0M714.5 176.9V179.6M719.5 186.2V187.2M723.5 198.1V202.3M725.5 188.6V198.6M727.5 184.9V188.5M729.5 188.1V189.6M730.5 181.4V187.4M731.5 175.9V181.4M732.5 174.5V176.4M735.5 169.3V175.1M737.5 165.1V169.6M740.5 172.9V174.4M741.5 171.7V172.7M743.5 171.7V175.6M744.5 169.9V171.6M745.5 168.6V170.2M747.5 166.5V169.9M749.5 165.5V166.5M750.5 160.2V165.5M751.5 155.1V160.6M752.5 152.3V155.2M754.5 152.1V155.0M755.5 147.0V151.9M756.5 142.0V146.8M759.5 143.0V144.0M761.5 141.1V142.8M764.5 141.4V148.4M765.5 137.1V141.3M769.5 137.9V141.1M773.5 141.9V144.1M774.5 139.4V141.7M776.5 150.2V152.5M778.5 149.6V160.5M779.5 147.1V150.3M781.5 144.9V151.4M783.5 138.6V144.7M785.5 131.3V138.4M786.5 127.2V131.0M790.5 132.1V139.7M791.5 128.5V132.5M792.5 123.0V129.0M794.5 117.3V124.5M795.5 114.0V117.5M797.5 112.2V114.0M803.5 122.5V125.2M804.5 114.7V122.9M805.5 110.1V114.2M807.5 111.4V113.4M809.5 103.1V111.7M811.5 101.1V105.2M812.5 98.3V101.5M813.5 95.4V98.6M814.5 90.8V95.0M815.5 86.7V90.6M819.5 89.8V99.6M822.5 90.1V99.0M823.5 89.0V90.0M825.5 92.7V93.7M826.5 88.2V93.6M827.5 83.2V88.4M831.5 89.7V96.0M832.5 89.6V90.6M835.5 81.8V96.4M839.5 78.8V90.8M840.5 76.8V77.9M843.5 83.3V91.7M847.5 80.4V89.9M848.5 79.5V80.5M851.5 91.5V94.8M853.5 96.0V100.7M854.5 94.4V96.2M855.5 89.7V93.8M861.5 107.4V119.0M865.5 120.4V122.0M866.5 112.2V120.4M867.5 107.1V112.0M868.5 102.9V106.8M870.5 98.6V102.6M871.5 96.9V99.0M872.5 87.0V96.7M874.5 85.0V86.8M875.5 83.1V84.8M876.5 80.4V83.1M877.5 77.0V80.2M878.5 72.9V77.2M879.5 69.8V72.3M880.5 67.7V69.5M883.5 66.5V70.9M886.5 73.1V77.5M887.5 68.4V73.7M888.5 65.5V69.0M890.5 67.5V70.3M892.5 73.8V74.8M894.5 73.5V74.5M895.5 65.4V73.9M896.5 57.6V65.0M897.5 52.9V57.2M898.5 51.9V52.9M899.5 51.3V52.3M900.5 48.1V51.4M901.5 44.3V48.2M902.5 43.0V44.4M903.5 42.5V43.5M904.5 41.9V42.9M906.5 40.9V41.9M909.5 37.4V47.0M910.5 36.5V37.5M911.5 28.2V36.6M915.5 40.5V41.8M921.5 54.8V55.8M922.5 49.9V55.5M923.5 47.9V49.5M925.5 43.5V52.1" stroke="#12b472" stroke-width="1" fill="none"/>
<path d="M3.5 231.7V232.7M5.5 233.0V237.7M7.5 236.2V240.2M11.5 238.2V240.9M13.5 236.4V238.0M16.5 231.8V233.9M17.5 234.2V241.0M19.5 238.5V240.5M20.5 240.8V247.0M22.5 246.7V252.7M25.5 246.8V257.4M27.5 245.1V257.8M30.5 248.7V249.7M31.5 249.5V253.4M32.5 253.5V263.5M35.5 255.5V261.3M36.5 262.2V263.2M38.5 259.9V261.3M41.5 253.7V255.8M42.5 255.6V261.0M49.5 239.3V240.3M52.5 234.0V235.4M53.5 234.5V235.5M54.5 234.5V237.7M58.5 230.5V235.7M61.5 228.1V229.4M65.5 209.0V210.0M66.5 209.4V211.2M67.5 210.8V211.8M68.5 211.6V215.4M71.5 213.8V217.1M72.5 216.7V218.7M73.5 218.5V220.3M74.5 220.0V221.0M75.5 221.0V223.8M76.5 224.0V225.2M78.5 222.6V224.5M80.5 223.2V227.8M81.5 227.9V230.1M83.5 229.7V233.1M87.5 227.3V229.9M89.5 226.2V229.8M91.5 229.4V231.3M92.5 231.8V234.1M93.5 232.9V250.8M96.5 245.9V247.9M97.5 248.8V253.5M98.5 253.3V265.1M100.5 257.9V261.8M101.5 262.0V263.9M102.5 264.5V269.3M103.5 268.7V269.7M109.5 259.8V265.9M110.5 266.3V267.3M115.5 253.0V254.4M116.5 254.2V255.9M120.5 250.0V253.4M122.5 253.9V256.0M123.5 256.1V260.5M126.5 257.1V259.9M127.5 260.1V262.4M129.5 256.9V267.0M131.5 266.2V269.5M132.5 270.3V272.9M133.5 271.8V272.8M137.5 260.1V266.1M140.5 259.2V260.5M141.5 259.7V260.7M143.5 260.7V262.2M146.5 258.5V259.5M148.5 258.8V260.7M150.5 257.3V264.7M155.5 257.6V258.6M156.5 257.8V258.8M158.5 255.4V262.9M159.5 262.8V266.4M164.5 232.4V233.4M167.5 229.8V235.6M170.5 228.0V236.7M173.5 233.0V237.2M175.5 234.5V239.3M176.5 239.2V245.6M177.5 245.7V246.7M183.5 234.3V239.9M185.5 238.0V239.4M188.5 226.8V231.8M189.5 232.0V233.2M200.5 205.1V206.5M201.5 205.7V206.7M202.5 205.8V209.1M204.5 209.2V211.6M206.5 208.3V213.0M207.5 212.9V215.7M208.5 216.0V217.3M211.5 214.6V215.6M212.5 215.4V217.0M213.5 217.3V218.4M214.5 218.2V223.0M216.5 222.9V227.5M217.5 227.7V229.4M219.5 228.7V231.2M220.5 231.6V234.4M222.5 231.3V236.4M223.5 236.0V240.7M229.5 232.2V236.6M231.5 231.4V236.0M232.5 236.4V240.0M234.5 233.8V234.8M235.5 234.4V240.8M240.5 236.7V238.2M241.5 237.8V245.9M242.5 245.4V248.7M244.5 244.8V251.5M245.5 250.9V256.4M248.5 252.6V255.6M252.5 249.4V264.0M255.5 262.9V268.7M257.5 262.2V268.2M258.5 267.7V269.1M261.5 260.1V261.1M262.5 259.7V260.7M264.5 260.6V264.2M266.5 261.8V264.8M268.5 264.8V276.7M270.5 274.9V277.9M271.5 277.4V281.5M272.5 282.1V287.3M274.5 285.0V289.7M277.5 287.3V288.3M278.5 288.2V289.2M283.5 265.2V275.4M285.5 268.4V272.0M286.5 271.6V276.4M287.5 276.6V278.0M292.5 264.2V265.2M297.5 249.9V252.7M301.5 249.2V250.9M302.5 251.2V252.2M309.5 236.7V237.7M311.5 237.1V238.3M318.5 198.7V200.6M322.5 184.8V190.2M323.5 189.4V190.4M325.5 190.2V194.3M326.5 195.0V196.9M327.5 197.0V207.2M328.5 207.1V212.5M329.5 212.9V215.2M331.5 208.5V213.9M332.5 214.1V215.1M334.5 210.3V219.4M335.5 219.1V224.5M338.5 220.2V223.2M341.5 214.4V217.5M345.5 206.8V210.0M346.5 209.4V210.4M347.5 209.6V210.6M349.5 209.9V213.0M350.5 212.3V217.5M352.5 209.7V211.8M356.5 201.7V202.8M359.5 192.5V200.4M361.5 200.1V201.8M362.5 201.4V204.8M366.5 194.0V199.2M369.5 191.0V192.0M370.5 192.4V194.8M375.5 185.1V191.2M377.5 188.8V189.9M380.5 181.3V187.1M383.5 183.6V191.1M384.5 190.3V191.3M386.5 191.2V192.4M388.5 190.1V191.1M390.5 183.8V186.1M393.5 176.3V177.4M394.5 177.4V182.9M398.5 175.8V179.4M400.5 178.4V179.4M401.5 179.2V180.9M402.5 180.9V181.9M403.5 181.6V184.9M404.5 184.2V188.7M405.5 188.8V191.2M406.5 191.3V200.9M408.5 198.3V203.6M411.5 201.7V206.7M413.5 205.6V207.2M415.5 204.2V210.1M419.5 201.4V202.4M422.5 192.8V195.1M425.5 189.6V191.8M428.5 185.8V186.8M429.5 186.7V189.4M431.5 182.8V187.7M432.5 187.2V188.2M438.5 180.7V181.7M439.5 180.8V181.8M440.5 181.5V189.4M444.5 183.5V193.3M446.5 192.8V196.6M450.5 188.9V189.9M451.5 190.0V192.4M453.5 189.9V192.9M455.5 192.3V200.5M456.5 200.3V202.9M460.5 195.2V201.8M464.5 190.5V192.4M465.5 192.0V193.3M466.5 192.5V193.5M468.5 190.2V191.6M471.5 187.3V188.6M473.5 187.1V189.7M478.5 141.5V146.2M480.5 144.0V148.0M483.5 147.8V149.9M484.5 149.2V150.5M487.5 136.8V146.0M489.5 135.4V141.6M490.5 141.1V142.1M492.5 139.4V184.0M493.5 182.6V195.5M496.5 190.8V191.8M497.5 190.8V193.5M499.5 182.9V184.3M501.5 182.3V184.6M505.5 175.1V176.1M512.5 150.2V151.2M514.5 149.8V159.3M515.5 158.6V159.6M516.5 159.3V161.7M517.5 161.4V164.2M519.5 164.5V168.2M520.5 168.3V169.3M522.5 165.1V177.3M523.5 176.9V177.9M526.5 168.5V169.5M528.5 155.2V161.1M533.5 138.9V145.9M535.5 142.2V148.1M536.5 148.0V152.0M539.5 149.0V150.4M540.5 150.8V153.2M541.5 153.0V155.4M544.5 155.5V156.5M548.5 143.2V147.3M550.5 140.7V141.7M552.5 132.9V133.9M553.5 133.7V137.7M555.5 138.0V143.8M556.5 144.2V146.0M557.5 145.8V147.1M559.5 145.3V148.3M561.5 147.3V148.3M563.5 144.3V152.4M565.5 147.5V154.5M574.5 102.3V103.9M575.5 103.5V119.8M577.5 115.8V123.8M580.5 123.3V125.5M581.5 125.2V128.7M585.5 98.0V101.4M588.5 96.8V102.9M589.5 102.1V103.1M592.5 100.3V101.3M593.5 100.6V104.8M594.5 104.9V105.9M596.5 105.3V106.3M597.5 106.3V112.0M598.5 111.6V117.1M599.5 116.8V133.8M601.5 126.5V142.4M602.5 142.7V147.9M605.5 138.8V146.5M607.5 145.9V146.9M611.5 138.9V144.8M614.5 141.6V144.6M616.5 144.2V145.2M619.5 143.3V150.7M621.5 142.3V148.2M624.5 132.9V133.9M626.5 130.1V132.0M628.5 132.2V142.4M629.5 141.7V144.6M630.5 143.7V144.7M632.5 141.8V147.1M633.5 147.3V149.8M635.5 141.9V144.6M637.5 130.9V141.5M640.5 138.1V142.7M644.5 132.8V141.6M646.5 136.0V138.3M647.5 137.5V138.5M649.5 137.5V142.7M650.5 143.5V153.2M653.5 150.8V160.9M654.5 161.2V162.4M655.5 162.3V165.5M658.5 162.4V170.1M659.5 169.6V178.6M660.5 178.8V190.4M661.5 189.7V190.9M664.5 188.4V201.0M665.5 201.3V205.3M674.5 180.0V181.0M676.5 180.3V185.3M677.5 185.4V186.7M680.5 185.3V188.1M681.5 187.7V189.3M682.5 190.2V191.2M684.5 190.0V204.1M685.5 203.8V232.8M688.5 231.2V250.1M689.5 249.6V252.9M692.5 234.0V235.0M694.5 232.7V233.7M695.5 233.1V234.7M696.5 235.4V241.9M697.5 241.8V243.8M702.5 212.0V217.8M703.5 218.2V220.5M707.5 206.5V207.5M708.5 207.5V210.4M715.5 177.1V178.1M716.5 177.4V181.2M717.5 181.0V183.5M718.5 183.1V186.8M720.5 186.3V190.1M721.5 190.2V198.2M722.5 197.9V201.9M726.5 188.4V189.4M728.5 185.3V190.0M733.5 174.0V175.0M734.5 174.5V175.5M738.5 165.0V170.8M739.5 170.0V174.2M742.5 172.4V175.8M746.5 169.1V170.2M753.5 152.6V155.1M757.5 142.0V143.0M758.5 142.2V144.3M762.5 141.6V144.9M763.5 144.6V149.0M766.5 137.8V138.8M767.5 138.4V139.5M768.5 139.4V141.5M770.5 137.5V142.6M771.5 142.8V143.8M775.5 138.6V152.7M777.5 149.0V160.4M780.5 147.0V151.0M782.5 144.5V145.5M787.5 127.5V130.3M788.5 129.9V134.5M789.5 134.7V139.2M793.5 123.3V124.6M798.5 111.9V113.3M799.5 113.5V118.7M800.5 118.4V121.1M801.5 120.7V121.7M802.5 121.7V124.9M806.5 110.4V113.7M810.5 102.6V105.0M816.5 86.9V89.4M817.5 89.7V90.8M818.5 90.4V99.4M821.5 89.7V99.2M824.5 89.0V93.5M828.5 83.0V87.0M829.5 86.8V88.0M830.5 88.6V95.8M834.5 90.5V96.4M836.5 82.3V83.3M837.5 83.6V90.3M838.5 90.9V91.9M841.5 75.8V77.8M842.5 77.8V91.9M844.5 83.9V87.3M846.5 87.0V89.1M849.5 79.9V92.9M850.5 92.1V94.2M852.5 90.9V101.0M856.5 88.7V101.8M858.5 101.6V109.8M859.5 109.3V110.4M860.5 110.8V119.1M862.5 108.3V111.2M863.5 111.5V114.8M864.5 114.0V121.3M873.5 86.5V87.5M882.5 67.6V70.6M884.5 66.0V69.1M885.5 69.7V77.7M889.5 64.9V69.7M891.5 68.1V74.1M907.5 41.3V46.1M908.5 46.0V47.0M912.5 28.7V32.7M913.5 32.7V35.1M914.5 35.3V42.2M916.5 40.1V41.1M918.5 41.4V43.2M919.5 42.8V44.7M920.5 45.1V55.2M924.5 48.7V52.2" stroke="#fa2450" stroke-width="1" fill="none"/>
<path d="M3.0 229.6C5.1 229.8 11.4 230.0 15.6 230.5C19.8 231.0 24.2 231.7 28.1 232.4C32.0 233.1 35.6 234.2 39.0 234.8C42.4 235.4 45.4 235.8 48.3 235.8C51.1 235.8 53.3 235.2 56.1 234.8C58.9 234.4 62.2 233.8 65.0 233.2C67.8 232.6 70.2 231.7 72.8 231.2C75.4 230.7 78.0 230.2 80.6 230.1C83.2 230.0 85.8 230.2 88.4 230.5C91.0 230.8 93.4 231.5 96.2 232.1C99.0 232.7 102.4 233.4 105.5 234.0C108.6 234.6 111.4 235.1 114.9 235.8C118.5 236.5 122.6 237.5 126.8 238.3C131.0 239.1 135.5 240.0 140.0 240.8C144.5 241.6 149.8 242.8 153.7 243.2C157.6 243.6 159.8 243.3 163.5 243.2C167.2 243.1 171.7 243.0 175.8 242.5C179.9 242.0 184.0 240.8 188.0 240.0C192.0 239.2 195.6 238.6 200.0 237.6C204.4 236.6 210.0 234.8 214.5 234.1C219.0 233.4 222.7 233.5 226.8 233.4C230.9 233.3 234.9 233.3 239.0 233.6C243.1 233.9 247.2 234.6 251.3 235.3C255.4 236.0 259.4 236.8 263.5 237.8C267.6 238.8 271.7 240.4 275.8 241.5C279.9 242.6 284.7 243.8 288.0 244.4C291.3 245.0 293.4 244.9 295.6 245.1C297.8 245.3 299.2 245.6 301.1 245.6C303.0 245.6 304.8 245.5 306.7 245.3C308.6 245.1 310.4 244.9 312.3 244.2C314.2 243.5 316.0 242.2 317.8 241.2C319.6 240.2 321.5 239.2 323.4 238.4C325.3 237.7 327.1 237.2 329.0 236.7C330.9 236.2 333.0 235.6 335.0 235.2C337.0 234.8 338.3 234.6 341.0 234.0C343.7 233.4 347.6 232.5 351.3 231.6C355.1 230.7 359.4 229.8 363.5 228.6C367.6 227.4 371.7 225.7 375.8 224.2C379.9 222.7 383.6 221.2 388.0 219.5C392.4 217.8 397.9 215.4 402.3 214.2C406.7 213.0 410.4 212.9 414.5 212.4C418.6 211.9 422.7 211.8 426.8 211.0C430.9 210.2 434.9 208.5 439.0 207.6C443.1 206.7 447.2 206.2 451.3 205.6C455.4 205.0 459.4 204.5 463.5 203.9C467.6 203.3 471.7 203.1 475.8 201.9C479.9 200.8 484.0 198.5 488.0 197.0C492.0 195.5 496.4 194.1 500.0 192.8C503.6 191.5 505.1 190.4 509.6 189.0C514.1 187.6 521.9 185.6 526.8 184.2C531.7 182.8 534.9 181.7 539.0 180.5C543.1 179.3 547.2 178.0 551.3 176.8C555.4 175.6 559.4 174.5 563.5 173.1C567.6 171.7 571.7 170.3 575.8 168.2C579.9 166.1 583.6 162.8 588.0 160.5C592.4 158.2 597.9 155.9 602.3 154.6C606.7 153.3 610.4 153.2 614.5 152.7C618.6 152.2 622.7 152.1 626.8 151.5C630.9 150.9 634.9 149.8 639.0 149.0C643.1 148.2 647.2 146.4 651.3 146.6C655.4 146.8 659.4 149.0 663.5 150.2C667.6 151.4 671.7 152.5 675.8 153.9C679.9 155.3 683.9 157.0 688.0 158.8C692.1 160.7 696.4 163.4 700.3 165.0C704.2 166.6 707.8 167.8 711.2 168.6C714.6 169.4 717.4 169.7 720.5 170.1C723.6 170.5 726.8 170.6 729.9 170.9C733.0 171.2 735.9 171.7 739.2 171.7C742.6 171.7 746.3 171.5 750.0 170.9C753.7 170.3 757.4 169.0 761.3 168.0C765.2 167.0 769.1 165.8 773.5 164.8C777.9 163.9 783.9 163.1 787.4 162.3C790.9 161.5 791.9 160.9 794.7 159.8C797.6 158.7 801.5 156.8 804.5 155.6C807.5 154.3 810.2 153.3 812.5 152.3C814.8 151.3 816.1 150.6 818.0 149.6C819.9 148.6 821.9 147.8 824.1 146.6C826.4 145.4 828.6 144.2 831.5 142.6C834.4 141.0 838.2 138.9 841.3 137.2C844.4 135.5 847.4 133.7 850.0 132.4C852.6 131.1 854.2 130.5 857.0 129.6C859.8 128.7 863.3 128.2 866.8 126.8C870.3 125.4 874.3 123.0 878.0 121.3C881.7 119.6 885.4 118.3 889.1 116.8C892.8 115.2 896.2 114.1 900.0 112.0C903.8 109.9 907.7 106.5 912.0 104.0C916.3 101.5 923.7 98.4 926.0 97.3" stroke="#e03131" stroke-width="2.0" fill="none" stroke-linejoin="round" stroke-linecap="round"/>
<path d="M3.0 249.6C4.1 249.1 7.3 247.3 9.4 246.5C11.5 245.7 13.5 245.2 15.6 244.6C17.7 243.9 19.7 242.9 21.8 242.6C23.9 242.3 26.0 241.9 28.1 242.6C30.2 243.2 32.2 245.3 34.3 246.5C36.4 247.7 38.4 249.1 40.5 249.6C42.6 250.1 44.7 250.4 46.8 249.6C48.9 248.8 50.9 246.1 53.0 244.9C55.1 243.7 57.2 243.9 59.2 242.6C61.2 241.3 63.0 238.9 65.0 237.1C67.0 235.3 69.1 232.9 71.2 231.6C73.3 230.2 75.4 229.7 77.5 229.0C79.6 228.3 81.4 227.9 83.7 227.7C86.0 227.5 89.4 227.3 91.5 227.7C93.6 228.1 94.4 228.8 96.2 230.1C98.0 231.4 100.3 233.7 102.4 235.5C104.5 237.3 106.4 239.4 108.7 241.0C111.0 242.6 113.8 243.9 116.4 244.9C119.0 245.9 121.1 245.9 124.2 246.8C127.3 247.7 132.5 249.4 135.0 250.3C137.5 251.2 136.3 251.6 139.0 252.3C141.7 253.1 148.5 254.3 151.3 254.8C154.1 255.3 154.5 255.4 156.0 255.5C157.5 255.6 159.1 256.3 160.5 255.6C161.9 254.9 162.2 253.0 164.6 251.5C166.9 250.0 171.4 248.3 174.6 246.8C177.8 245.3 180.2 244.4 183.5 242.3C186.8 240.2 191.9 236.7 194.7 234.5C197.4 232.3 198.0 230.8 200.0 229.0C202.0 227.2 204.7 225.0 206.7 223.8C208.7 222.6 210.4 222.1 212.0 221.7C213.6 221.3 214.7 221.2 216.0 221.4C217.3 221.6 218.5 222.3 220.1 223.0C221.7 223.7 223.6 225.0 225.4 225.5C227.2 226.0 229.2 225.9 231.0 226.2C232.8 226.4 234.5 226.6 236.1 227.0C237.7 227.4 239.0 228.0 240.5 228.4C242.0 228.8 243.4 228.6 245.2 229.6C247.0 230.6 248.1 232.1 251.4 234.2C254.7 236.3 261.6 239.9 265.0 242.4C268.4 244.9 269.5 246.8 271.7 249.3C273.9 251.8 276.4 255.6 278.4 257.3C280.3 259.1 281.8 259.2 283.4 259.8C285.0 260.4 286.9 261.0 288.0 261.2C289.1 261.4 288.7 261.1 290.0 260.8C291.3 260.5 293.8 260.1 295.6 259.5C297.5 258.9 299.2 258.2 301.1 257.3C303.0 256.4 305.0 255.1 306.7 254.0C308.4 252.9 310.1 251.7 311.2 250.6C312.3 249.5 312.7 248.6 313.4 247.3C314.1 246.0 314.7 244.7 315.6 242.8C316.5 241.0 317.9 238.4 319.0 236.2C320.1 234.0 321.2 231.3 322.3 229.5C323.4 227.7 324.3 226.6 325.6 225.6C326.9 224.6 328.5 224.2 330.1 223.4C331.7 222.6 333.4 221.3 335.0 220.6C336.6 219.9 337.3 220.0 340.0 219.2C342.7 218.4 347.9 217.3 351.3 215.8C354.7 214.3 357.9 211.6 360.5 210.2C363.1 208.8 364.5 208.9 366.8 207.6C369.1 206.3 372.1 203.8 374.5 202.3C376.9 200.8 378.4 199.9 381.0 198.5C383.6 197.1 387.5 195.4 390.0 194.0C392.5 192.6 394.3 191.1 396.0 190.0C397.7 188.9 398.7 188.1 400.0 187.5C401.3 186.9 402.8 186.4 404.0 186.5C405.2 186.6 406.0 186.9 407.5 187.8C409.0 188.7 410.6 191.1 413.0 192.0C415.4 192.9 419.2 193.5 421.9 193.3C424.6 193.1 426.3 191.8 429.2 190.9C432.1 190.0 435.3 188.3 439.0 187.9C442.7 187.5 447.2 188.1 451.3 188.4C455.4 188.7 459.4 189.6 463.5 189.7C467.6 189.8 472.5 190.8 475.8 188.9C479.1 187.1 480.2 182.3 483.1 178.6C486.0 174.9 489.9 168.3 492.9 166.9C495.9 165.5 498.2 170.0 501.0 170.0C503.8 170.0 506.5 167.9 509.6 167.0C512.7 166.1 516.5 164.8 519.4 164.6C522.3 164.4 523.5 166.9 526.8 165.8C530.1 164.7 534.9 160.1 539.0 158.0C543.1 155.9 547.2 155.0 551.3 153.5C555.4 152.0 560.6 150.1 563.5 149.1C566.4 148.1 566.3 149.3 568.4 147.5C570.5 145.7 573.9 140.7 576.2 138.5C578.5 136.3 580.3 136.7 582.4 134.4C584.5 132.1 586.0 127.3 588.6 124.5C591.2 121.7 595.9 118.5 598.0 117.3C600.1 116.1 599.0 116.7 601.1 117.6C603.2 118.5 607.4 120.9 610.5 122.7C613.6 124.5 615.9 127.4 619.8 128.4C623.7 129.4 629.3 128.7 634.1 128.9C638.9 129.2 644.7 128.2 648.8 129.9C652.9 131.6 655.3 135.2 658.6 139.2C661.9 143.2 664.8 149.8 668.4 153.9C672.0 158.0 676.8 160.8 680.0 163.9C683.2 167.0 685.5 169.2 687.8 172.5C690.1 175.8 692.2 180.2 694.0 183.4C695.8 186.7 696.9 189.9 698.7 192.0C700.5 194.1 702.8 195.1 704.9 195.9C707.0 196.7 709.1 197.0 711.2 196.6C713.3 196.2 715.1 194.5 717.4 193.5C719.7 192.5 722.6 191.4 725.2 190.4C727.8 189.4 730.1 188.7 733.0 187.3C735.9 185.9 739.6 183.4 742.4 181.8C745.2 180.2 747.3 180.1 750.0 177.9C752.7 175.8 755.3 172.3 758.8 168.9C762.3 165.5 766.8 160.3 771.1 157.4C775.4 154.5 781.0 153.3 784.5 151.6C788.0 149.9 789.7 149.3 792.3 147.4C794.9 145.5 797.9 142.2 800.1 140.0C802.3 137.8 803.9 136.1 805.7 134.1C807.5 132.1 808.8 130.6 811.0 128.2C813.2 125.8 816.2 122.3 818.8 119.8C821.4 117.3 823.7 115.8 826.6 113.4C829.5 111.0 832.9 108.5 836.0 105.6C839.1 102.7 842.8 98.4 845.3 96.2C847.8 94.0 849.1 93.0 851.2 92.3C853.3 91.6 856.0 91.7 857.9 91.9C859.8 92.1 860.7 92.8 862.4 93.4C864.1 94.0 865.3 96.1 867.9 95.7C870.5 95.3 874.5 93.2 878.0 91.2C881.5 89.2 886.5 85.2 889.1 83.4C891.7 81.6 891.9 81.2 893.4 80.5C894.9 79.8 896.3 80.2 898.1 78.9C899.9 77.6 902.2 74.8 904.3 72.7C906.4 70.6 908.4 68.6 910.5 66.4C912.6 64.2 915.0 61.1 916.8 59.4C918.6 57.7 920.1 57.2 921.5 56.3C922.9 55.4 924.7 54.4 925.3 54.0" stroke="#ff9500" stroke-width="2.1" fill="none" stroke-linejoin="round" stroke-linecap="round"/>
<path d="M3.0 336.5 L3.0 333.86 L3.5 333.49 L4.0 333.24 L4.5 333.12 L5.0 333.10 L5.5 333.21 L6.0 333.44 L6.5 333.78 L7.0 334.26 L7.5 334.90 L8.0 335.80 L8.5 335.57 L9.0 335.80 L9.5 335.80 L10.0 335.80 L10.5 335.80 L11.0 335.80 L11.5 335.80 L12.0 335.80 L12.5 335.80 L13.0 335.80 L13.5 335.80 L14.0 335.80 L14.0 336.5Z M20.0 336.5 L20.0 335.80 L20.0 336.5Z M41.0 336.5 L41.0 335.80 L41.5 335.80 L42.0 335.80 L42.5 335.45 L43.0 335.11 L43.5 334.77 L44.0 335.80 L44.5 334.56 L45.0 333.83 L45.5 333.24 L46.0 332.74 L46.5 332.30 L47.0 331.91 L47.5 331.57 L48.0 331.28 L48.5 331.03 L49.0 330.82 L49.5 330.66 L50.0 330.54 L50.5 330.45 L51.0 330.42 L51.5 330.43 L52.0 330.48 L52.5 330.59 L53.0 330.73 L53.5 330.92 L54.0 331.15 L54.5 331.43 L55.0 331.75 L55.5 332.11 L56.0 332.51 L56.5 332.96 L57.0 333.49 L57.5 334.15 L58.0 335.41 L58.5 332.95 L59.0 333.03 L59.5 333.09 L60.0 333.12 L60.5 333.13 L61.0 333.11 L61.5 333.06 L62.0 335.45 L62.5 334.25 L63.0 333.63 L63.5 333.15 L64.0 332.79 L64.5 332.52 L65.0 332.35 L65.5 332.27 L66.0 332.28 L66.5 332.39 L67.0 332.58 L67.5 332.87 L68.0 333.26 L68.5 333.74 L69.0 334.33 L69.5 335.04 L70.0 335.80 L70.5 335.80 L70.5 336.5Z M106.5 336.5 L106.5 335.80 L107.0 335.80 L107.5 335.80 L108.0 335.80 L108.5 335.38 L109.0 334.90 L109.5 334.52 L110.0 334.20 L110.5 333.94 L111.0 333.72 L111.5 333.54 L112.0 333.40 L112.5 333.31 L113.0 333.27 L113.5 333.27 L114.0 333.32 L114.5 333.41 L115.0 333.54 L115.5 333.72 L116.0 333.95 L116.5 334.23 L117.0 334.59 L117.5 335.06 L118.0 335.80 L118.5 334.79 L119.0 334.83 L119.5 334.88 L120.0 335.80 L120.5 335.26 L121.0 334.88 L121.5 334.60 L122.0 334.40 L122.5 334.25 L123.0 334.15 L123.5 334.10 L124.0 334.10 L124.5 334.14 L125.0 334.23 L125.5 334.36 L126.0 334.54 L126.5 334.77 L127.0 335.06 L127.5 335.44 L128.0 335.80 L128.5 335.66 L129.0 335.77 L129.5 335.80 L130.0 335.80 L130.5 335.80 L130.5 336.5Z M147.5 336.5 L147.5 335.80 L148.0 335.40 L148.5 335.10 L149.0 334.87 L149.5 334.70 L150.0 334.58 L150.5 334.51 L151.0 334.49 L151.5 334.51 L152.0 334.59 L152.5 334.71 L153.0 334.88 L153.5 335.10 L154.0 335.39 L154.5 335.78 L154.5 336.5Z M159.0 336.5 L159.0 335.80 L159.5 335.80 L160.0 335.80 L160.5 335.70 L161.0 335.37 L161.5 335.03 L162.0 334.71 L162.5 334.40 L163.0 335.78 L163.5 334.43 L164.0 333.74 L164.5 333.22 L165.0 332.84 L165.5 332.57 L166.0 332.41 L166.5 332.36 L167.0 332.41 L167.5 332.56 L168.0 332.81 L168.5 333.16 L169.0 333.63 L169.5 334.27 L170.0 335.57 L170.5 333.55 L171.0 333.79 L171.5 334.11 L172.0 334.44 L172.5 334.80 L173.0 335.18 L173.5 335.58 L174.0 335.80 L174.5 335.80 L174.5 336.5Z M188.0 336.5 L188.0 335.80 L188.5 335.80 L189.0 335.80 L189.5 335.80 L190.0 335.80 L190.5 335.42 L191.0 334.98 L191.5 334.65 L192.0 334.40 L192.5 334.21 L193.0 334.08 L193.5 334.00 L194.0 333.96 L194.5 333.97 L195.0 334.04 L195.5 334.15 L196.0 334.32 L196.5 334.55 L197.0 334.84 L197.5 335.25 L198.0 335.80 L198.5 335.06 L199.0 335.10 L199.5 335.15 L200.0 335.22 L200.5 335.31 L201.0 335.42 L201.5 335.53 L202.0 335.65 L202.5 335.76 L203.0 335.80 L203.5 335.80 L204.0 335.80 L204.5 335.80 L205.0 335.80 L205.5 335.80 L205.5 336.5Z M228.5 336.5 L228.5 335.66 L229.0 335.14 L229.5 334.76 L230.0 334.50 L230.5 334.36 L231.0 334.36 L231.5 334.49 L232.0 334.74 L232.5 335.14 L233.0 335.80 L233.5 334.95 L234.0 335.20 L234.5 335.49 L235.0 335.79 L235.5 335.80 L236.0 335.80 L236.0 336.5Z M262.5 336.5 L262.5 335.80 L263.0 335.80 L263.5 335.64 L264.0 335.46 L264.5 335.35 L265.0 335.29 L265.5 335.28 L266.0 335.33 L266.5 335.44 L267.0 335.62 L267.5 335.80 L268.0 335.80 L268.5 335.80 L269.0 335.80 L269.5 335.80 L269.5 336.5Z M278.5 336.5 L278.5 335.80 L279.0 335.36 L279.5 334.59 L280.0 333.91 L280.5 333.31 L281.0 335.39 L281.5 334.43 L282.0 333.90 L282.5 333.48 L283.0 333.13 L283.5 332.84 L284.0 332.59 L284.5 332.36 L285.0 332.16 L285.5 331.97 L286.0 331.80 L286.5 331.65 L287.0 331.51 L287.5 331.39 L288.0 331.29 L288.5 331.20 L289.0 331.14 L289.5 331.10 L290.0 331.09 L290.5 331.09 L291.0 331.11 L291.5 331.15 L292.0 331.22 L292.5 331.30 L293.0 331.40 L293.5 331.51 L294.0 331.64 L294.5 331.78 L295.0 331.95 L295.5 332.14 L296.0 332.35 L296.5 332.57 L297.0 332.82 L297.5 333.09 L298.0 333.38 L298.5 333.70 L299.0 334.07 L299.5 334.51 L300.0 335.35 L300.5 332.69 L301.0 332.70 L301.5 332.71 L302.0 332.71 L302.5 332.72 L303.0 332.72 L303.5 332.72 L304.0 332.72 L304.5 332.72 L305.0 332.72 L305.5 332.72 L306.0 332.71 L306.5 332.72 L307.0 332.76 L307.5 332.82 L308.0 332.90 L308.5 332.96 L309.0 333.00 L309.5 333.03 L310.0 333.04 L310.5 333.04 L311.0 333.00 L311.5 332.92 L312.0 335.39 L312.5 333.85 L313.0 333.05 L313.5 332.42 L314.0 331.90 L314.5 331.47 L315.0 331.12 L315.5 330.85 L316.0 330.65 L316.5 330.54 L317.0 330.50 L317.5 330.53 L318.0 330.65 L318.5 330.83 L319.0 331.10 L319.5 331.44 L320.0 331.85 L320.5 332.36 L321.0 333.00 L321.5 333.85 L322.0 335.48 L322.5 333.63 L323.0 334.28 L323.5 334.95 L324.0 335.63 L324.5 335.80 L324.5 336.5Z M356.5 336.5 L356.5 335.80 L357.0 335.67 L357.5 335.33 L358.0 335.03 L358.5 334.78 L359.0 334.58 L359.5 334.42 L360.0 334.29 L360.5 334.21 L361.0 334.16 L361.5 334.16 L362.0 334.20 L362.5 334.27 L363.0 334.38 L363.5 334.53 L364.0 334.71 L364.5 334.94 L365.0 335.21 L365.5 335.55 L366.0 335.80 L366.5 335.49 L367.0 335.50 L367.5 335.50 L368.0 335.80 L368.5 335.80 L369.0 335.80 L369.5 335.80 L370.0 335.80 L370.5 335.76 L371.0 335.70 L371.5 335.65 L372.0 335.60 L372.5 335.55 L373.0 335.51 L373.5 335.47 L374.0 335.44 L374.5 335.41 L375.0 335.39 L375.5 335.37 L376.0 335.36 L376.5 335.36 L377.0 335.35 L377.5 335.36 L378.0 335.39 L378.5 335.42 L379.0 335.46 L379.5 335.50 L380.0 335.54 L380.5 335.58 L381.0 335.62 L381.5 335.66 L382.0 335.70 L382.5 335.72 L383.0 335.73 L383.5 335.74 L384.0 335.76 L384.5 335.78 L385.0 335.80 L385.5 335.80 L386.0 335.80 L386.5 335.80 L387.0 335.78 L387.5 335.76 L388.0 335.73 L388.5 335.70 L389.0 335.66 L389.5 335.62 L390.0 335.58 L390.5 335.55 L391.0 335.54 L391.5 335.53 L392.0 335.52 L392.5 335.51 L393.0 335.51 L393.5 335.50 L394.0 335.51 L394.5 335.54 L395.0 335.58 L395.5 335.64 L396.0 335.70 L396.5 335.77 L397.0 335.80 L397.5 335.80 L398.0 335.80 L398.5 335.80 L399.0 335.80 L399.5 335.80 L400.0 335.80 L400.0 336.5Z M418.5 336.5 L418.5 335.80 L419.0 335.43 L419.5 335.11 L420.0 334.85 L420.5 334.60 L421.0 334.36 L421.5 334.13 L422.0 333.90 L422.5 333.69 L423.0 333.50 L423.5 333.33 L424.0 333.19 L424.5 333.06 L425.0 332.96 L425.5 332.88 L426.0 332.82 L426.5 332.78 L427.0 332.75 L427.5 332.74 L428.0 332.73 L428.5 332.74 L429.0 332.76 L429.5 332.77 L430.0 332.79 L430.5 332.81 L431.0 332.82 L431.5 332.84 L432.0 332.85 L432.5 332.87 L433.0 332.88 L433.5 332.91 L434.0 332.96 L434.5 333.05 L435.0 333.17 L435.5 333.32 L436.0 333.50 L436.5 333.72 L437.0 333.98 L437.5 334.27 L438.0 334.58 L438.5 334.90 L439.0 335.24 L439.5 335.64 L440.0 335.80 L440.0 336.5Z M465.5 336.5 L465.5 335.80 L466.0 335.80 L466.5 335.80 L467.0 335.69 L467.5 335.59 L468.0 335.51 L468.5 335.45 L469.0 335.42 L469.5 335.41 L470.0 335.42 L470.5 335.45 L471.0 335.50 L471.5 335.56 L472.0 335.64 L472.5 335.73 L473.0 335.80 L473.5 335.80 L474.0 335.80 L474.5 335.80 L474.5 336.5Z M475.5 336.5 L475.5 334.70 L476.0 333.62 L476.5 332.69 L477.0 331.84 L477.5 331.05 L478.0 330.28 L478.5 329.55 L479.0 328.83 L479.5 328.16 L480.0 327.60 L480.5 327.15 L481.0 326.79 L481.5 326.53 L482.0 326.35 L482.5 326.26 L483.0 326.25 L483.5 326.33 L484.0 326.48 L484.5 326.68 L485.0 326.91 L485.5 327.18 L486.0 327.48 L486.5 327.81 L487.0 328.18 L487.5 328.59 L488.0 329.04 L488.5 329.57 L489.0 330.19 L489.5 330.92 L490.0 331.74 L490.5 332.64 L491.0 333.67 L491.5 334.89 L491.5 336.5Z M505.0 336.5 L505.0 335.80 L505.5 335.62 L506.0 335.16 L506.5 334.80 L507.0 334.52 L507.5 334.31 L508.0 334.13 L508.5 333.97 L509.0 333.84 L509.5 333.73 L510.0 333.65 L510.5 333.58 L511.0 333.54 L511.5 333.50 L512.0 333.49 L512.5 333.49 L513.0 333.50 L513.5 333.53 L514.0 333.56 L514.5 333.63 L515.0 333.75 L515.5 333.92 L516.0 334.12 L516.5 334.34 L517.0 334.60 L517.5 334.87 L518.0 335.18 L518.5 335.53 L519.0 335.80 L519.5 335.80 L519.5 336.5Z M527.0 336.5 L527.0 335.80 L527.5 335.10 L528.0 334.38 L528.5 333.77 L529.0 333.22 L529.5 332.71 L530.0 332.27 L530.5 331.91 L531.0 331.64 L531.5 331.47 L532.0 331.38 L532.5 331.38 L533.0 331.48 L533.5 331.66 L534.0 331.94 L534.5 332.31 L535.0 332.75 L535.5 333.26 L536.0 333.86 L536.5 334.59 L537.0 335.80 L537.5 334.97 L538.0 335.30 L538.5 335.60 L539.0 335.80 L539.5 335.80 L540.0 335.80 L540.5 335.80 L540.5 336.5Z M546.5 336.5 L546.5 335.80 L547.0 335.80 L547.5 335.43 L548.0 334.88 L548.5 334.45 L549.0 334.09 L549.5 333.81 L550.0 333.58 L550.5 333.42 L551.0 333.34 L551.5 333.33 L552.0 333.39 L552.5 333.52 L553.0 333.71 L553.5 333.97 L554.0 334.29 L554.5 334.70 L555.0 335.18 L555.5 335.76 L555.5 336.5Z M566.5 336.5 L566.5 334.72 L567.0 333.44 L567.5 332.34 L568.0 331.35 L568.5 330.44 L569.0 329.60 L569.5 328.87 L570.0 328.25 L570.5 327.80 L571.0 327.53 L571.5 327.42 L572.0 327.47 L572.5 327.67 L573.0 328.03 L573.5 328.55 L574.0 329.18 L574.5 329.90 L575.0 330.72 L575.5 331.65 L576.0 332.73 L576.5 334.04 L577.0 335.80 L577.0 336.5Z M581.5 336.5 L581.5 335.69 L582.0 335.19 L582.5 334.78 L583.0 334.43 L583.5 334.13 L584.0 333.88 L584.5 333.70 L585.0 333.57 L585.5 333.49 L586.0 333.46 L586.5 333.48 L587.0 333.54 L587.5 333.65 L588.0 333.79 L588.5 333.95 L589.0 334.12 L589.5 334.33 L590.0 334.57 L590.5 334.84 L591.0 335.16 L591.5 335.57 L592.0 335.80 L592.0 336.5Z M620.5 336.5 L620.5 335.61 L621.0 334.87 L621.5 334.23 L622.0 333.65 L622.5 333.13 L623.0 332.67 L623.5 332.28 L624.0 331.93 L624.5 331.65 L625.0 331.43 L625.5 331.29 L626.0 331.20 L626.5 331.17 L627.0 331.19 L627.5 331.26 L628.0 331.39 L628.5 331.58 L629.0 331.81 L629.5 332.08 L630.0 332.38 L630.5 332.71 L631.0 333.08 L631.5 333.50 L632.0 333.99 L632.5 334.60 L633.0 335.75 L633.5 334.12 L634.0 334.23 L634.5 334.36 L635.0 334.53 L635.5 334.72 L636.0 334.92 L636.5 335.12 L637.0 335.33 L637.5 335.53 L638.0 335.73 L638.5 335.80 L639.0 335.80 L639.5 335.80 L640.0 335.80 L640.5 335.80 L640.5 336.5Z M670.0 336.5 L670.0 335.80 L670.5 335.28 L671.0 334.65 L671.5 334.15 L672.0 333.71 L672.5 333.31 L673.0 332.92 L673.5 332.55 L674.0 332.19 L674.5 331.85 L675.0 331.57 L675.5 331.36 L676.0 331.22 L676.5 331.16 L677.0 331.18 L677.5 331.27 L678.0 331.43 L678.5 331.67 L679.0 331.98 L679.5 332.39 L680.0 332.87 L680.5 333.44 L681.0 334.12 L681.5 334.94 L682.0 335.80 L682.0 336.5Z M693.5 336.5 L693.5 335.80 L694.0 335.13 L694.5 334.53 L695.0 334.02 L695.5 333.57 L696.0 333.17 L696.5 332.81 L697.0 332.47 L697.5 332.14 L698.0 331.83 L698.5 331.54 L699.0 331.27 L699.5 331.02 L700.0 330.80 L700.5 330.60 L701.0 330.42 L701.5 330.26 L702.0 330.12 L702.5 330.00 L703.0 329.90 L703.5 329.81 L704.0 329.73 L704.5 329.66 L705.0 329.60 L705.5 329.56 L706.0 329.55 L706.5 329.56 L707.0 329.59 L707.5 329.65 L708.0 329.73 L708.5 329.83 L709.0 329.94 L709.5 330.06 L710.0 330.18 L710.5 330.29 L711.0 330.39 L711.5 330.47 L712.0 330.54 L712.5 330.59 L713.0 330.63 L713.5 330.68 L714.0 330.73 L714.5 330.78 L715.0 330.84 L715.5 330.92 L716.0 331.02 L716.5 331.16 L717.0 331.32 L717.5 331.51 L718.0 331.74 L718.5 332.00 L719.0 332.31 L719.5 332.68 L720.0 333.12 L720.5 333.62 L721.0 334.17 L721.5 334.81 L722.0 335.80 L722.0 336.5Z M730.0 336.5 L730.0 335.80 L730.5 335.80 L731.0 335.80 L731.5 335.78 L732.0 335.50 L732.5 335.30 L733.0 335.13 L733.5 335.00 L734.0 334.88 L734.5 334.79 L735.0 334.70 L735.5 334.63 L736.0 334.58 L736.5 334.54 L737.0 334.53 L737.5 334.55 L738.0 334.62 L738.5 334.74 L739.0 334.90 L739.5 335.12 L740.0 335.40 L740.5 335.77 L741.0 335.80 L741.0 336.5Z M746.5 336.5 L746.5 335.80 L747.0 335.69 L747.5 335.38 L748.0 335.12 L748.5 334.91 L749.0 334.73 L749.5 334.58 L750.0 334.45 L750.5 334.34 L751.0 334.24 L751.5 334.14 L752.0 334.06 L752.5 333.98 L753.0 333.90 L753.5 333.83 L754.0 333.77 L754.5 333.73 L755.0 333.71 L755.5 333.71 L756.0 333.74 L756.5 333.79 L757.0 333.86 L757.5 333.96 L758.0 334.08 L758.5 334.24 L759.0 334.40 L759.5 334.60 L760.0 334.84 L760.5 335.11 L761.0 335.42 L761.5 335.80 L762.0 335.80 L762.0 336.5Z M785.0 336.5 L785.0 335.80 L785.5 335.80 L786.0 335.55 L786.5 335.24 L787.0 334.99 L787.5 334.78 L788.0 334.60 L788.5 334.44 L789.0 334.30 L789.5 334.18 L790.0 334.08 L790.5 334.00 L791.0 333.93 L791.5 333.87 L792.0 333.82 L792.5 333.79 L793.0 333.76 L793.5 333.73 L794.0 333.72 L794.5 333.71 L795.0 333.71 L795.5 333.71 L796.0 333.72 L796.5 333.73 L797.0 333.75 L797.5 333.76 L798.0 333.80 L798.5 333.85 L799.0 333.92 L799.5 334.01 L800.0 334.11 L800.5 334.22 L801.0 334.34 L801.5 334.47 L802.0 334.61 L802.5 334.76 L803.0 334.90 L803.5 335.04 L804.0 335.19 L804.5 335.35 L805.0 335.54 L805.5 335.78 L806.0 335.80 L806.5 335.64 L807.0 335.69 L807.5 335.74 L808.0 335.80 L808.5 335.80 L809.0 335.80 L809.5 335.80 L810.0 335.80 L810.5 335.80 L811.0 335.80 L811.5 335.80 L811.5 336.5Z M812.5 336.5 L812.5 335.80 L813.0 335.56 L813.5 335.31 L814.0 335.11 L814.5 334.94 L815.0 334.80 L815.5 334.68 L816.0 334.60 L816.5 334.55 L817.0 334.58 L817.5 334.67 L818.0 334.83 L818.5 335.05 L819.0 335.34 L819.5 335.72 L820.0 335.80 L820.0 336.5Z M868.5 336.5 L868.5 335.36 L869.0 334.64 L869.5 334.06 L870.0 333.58 L870.5 333.15 L871.0 332.75 L871.5 332.39 L872.0 332.05 L872.5 331.74 L873.0 331.47 L873.5 331.22 L874.0 330.99 L874.5 330.80 L875.0 330.64 L875.5 330.51 L876.0 330.42 L876.5 330.35 L877.0 330.31 L877.5 330.31 L878.0 330.32 L878.5 330.37 L879.0 330.43 L879.5 330.51 L880.0 330.61 L880.5 330.76 L881.0 330.96 L881.5 331.20 L882.0 331.49 L882.5 331.81 L883.0 332.17 L883.5 332.55 L884.0 332.96 L884.5 333.39 L885.0 333.83 L885.5 334.30 L886.0 334.79 L886.5 335.35 L887.0 335.80 L887.0 336.5Z M899.5 336.5 L899.5 335.66 L900.0 335.15 L900.5 334.73 L901.0 334.38 L901.5 334.07 L902.0 333.80 L902.5 333.57 L903.0 333.37 L903.5 333.21 L904.0 333.07 L904.5 332.95 L905.0 332.85 L905.5 332.77 L906.0 332.71 L906.5 332.66 L907.0 332.64 L907.5 332.64 L908.0 332.66 L908.5 332.70 L909.0 332.76 L909.5 332.85 L910.0 332.95 L910.5 333.09 L911.0 333.28 L911.5 333.50 L912.0 333.77 L912.5 334.09 L913.0 334.45 L913.5 334.84 L914.0 335.29 L914.5 335.80 L914.5 336.5Z " fill="#0a78c8"/>
<path d="M14.5 336.5 L14.5 337.20 L15.0 337.20 L15.5 337.30 L16.0 337.42 L16.5 337.50 L17.0 337.53 L17.5 337.51 L18.0 337.44 L18.5 337.32 L19.0 337.20 L19.5 337.20 L19.5 336.5Z M20.5 336.5 L20.5 337.20 L21.0 337.20 L21.5 337.39 L22.0 337.58 L22.5 337.76 L23.0 337.94 L23.5 338.11 L24.0 338.28 L24.5 338.45 L25.0 338.61 L25.5 338.75 L26.0 338.89 L26.5 339.02 L27.0 339.13 L27.5 339.24 L28.0 339.34 L28.5 339.42 L29.0 339.50 L29.5 339.58 L30.0 339.64 L30.5 339.68 L31.0 339.70 L31.5 339.71 L32.0 339.69 L32.5 339.67 L33.0 339.62 L33.5 339.57 L34.0 339.50 L34.5 339.41 L35.0 339.32 L35.5 339.21 L36.0 339.08 L36.5 338.93 L37.0 338.75 L37.5 338.55 L38.0 338.31 L38.5 338.04 L39.0 337.73 L39.5 337.35 L40.0 337.20 L40.5 337.20 L40.5 336.5Z M71.0 336.5 L71.0 337.20 L71.5 337.20 L72.0 337.20 L72.5 337.21 L73.0 337.30 L73.5 337.35 L74.0 337.42 L74.5 337.49 L75.0 337.58 L75.5 337.68 L76.0 337.20 L76.5 337.76 L77.0 338.21 L77.5 338.55 L78.0 338.82 L78.5 339.03 L79.0 339.18 L79.5 339.28 L80.0 339.33 L80.5 339.34 L81.0 339.31 L81.5 339.23 L82.0 339.11 L82.5 338.95 L83.0 338.74 L83.5 338.49 L84.0 338.16 L84.5 337.74 L85.0 337.20 L85.5 337.84 L86.0 337.89 L86.5 337.98 L87.0 338.09 L87.5 338.23 L88.0 338.39 L88.5 338.58 L89.0 338.79 L89.5 339.02 L90.0 337.33 L90.5 338.64 L91.0 339.34 L91.5 339.91 L92.0 340.41 L92.5 340.85 L93.0 341.24 L93.5 341.59 L94.0 341.91 L94.5 342.18 L95.0 342.42 L95.5 342.63 L96.0 342.79 L96.5 342.90 L97.0 342.96 L97.5 342.97 L98.0 342.93 L98.5 342.83 L99.0 342.68 L99.5 342.48 L100.0 342.22 L100.5 341.92 L101.0 341.56 L101.5 341.15 L102.0 340.67 L102.5 340.12 L103.0 339.47 L103.5 338.67 L104.0 337.26 L104.5 338.41 L105.0 337.82 L105.5 337.28 L106.0 337.20 L106.0 336.5Z M131.0 336.5 L131.0 337.20 L131.5 337.20 L132.0 337.20 L132.5 337.20 L133.0 337.39 L133.5 337.54 L134.0 337.67 L134.5 337.79 L135.0 337.88 L135.5 337.93 L136.0 337.94 L136.5 337.91 L137.0 337.85 L137.5 337.75 L138.0 337.63 L138.5 337.50 L139.0 337.36 L139.5 337.24 L140.0 337.20 L140.5 337.20 L141.0 337.20 L141.5 337.20 L142.0 337.20 L142.5 337.20 L143.0 337.20 L143.5 337.20 L144.0 337.20 L144.5 337.20 L145.0 337.20 L145.5 337.20 L146.0 337.20 L146.5 337.20 L147.0 337.20 L147.0 336.5Z M155.0 336.5 L155.0 337.20 L155.5 337.20 L156.0 337.20 L156.5 337.20 L157.0 337.20 L157.5 337.20 L158.0 337.20 L158.5 337.20 L158.5 336.5Z M175.0 336.5 L175.0 337.20 L175.5 337.20 L176.0 337.20 L176.5 338.00 L177.0 338.60 L177.5 338.95 L178.0 339.08 L178.5 338.99 L179.0 338.69 L179.5 338.14 L180.0 337.20 L180.5 337.73 L181.0 337.61 L181.5 337.51 L182.0 337.42 L182.5 337.35 L183.0 337.29 L183.5 337.25 L184.0 337.22 L184.5 337.20 L185.0 337.20 L185.5 337.20 L186.0 337.20 L186.5 337.20 L187.0 337.20 L187.5 337.20 L187.5 336.5Z M206.0 336.5 L206.0 337.20 L206.5 337.20 L207.0 337.20 L207.5 337.20 L208.0 337.20 L208.5 337.36 L209.0 337.74 L209.5 338.05 L210.0 338.32 L210.5 338.56 L211.0 338.78 L211.5 338.98 L212.0 339.16 L212.5 339.33 L213.0 339.48 L213.5 339.62 L214.0 339.74 L214.5 339.85 L215.0 339.94 L215.5 340.01 L216.0 340.08 L216.5 340.12 L217.0 340.16 L217.5 340.17 L218.0 340.15 L218.5 340.12 L219.0 340.06 L219.5 339.97 L220.0 339.87 L220.5 339.74 L221.0 339.60 L221.5 339.44 L222.0 339.27 L222.5 339.10 L223.0 338.91 L223.5 338.70 L224.0 338.44 L224.5 338.10 L225.0 337.42 L225.5 339.34 L226.0 339.02 L226.5 338.59 L227.0 338.07 L227.5 337.52 L228.0 337.20 L228.0 336.5Z M236.5 336.5 L236.5 337.20 L237.0 337.20 L237.5 337.20 L238.0 337.20 L238.5 337.20 L239.0 337.20 L239.5 337.20 L240.0 337.20 L240.5 337.20 L241.0 337.21 L241.5 337.21 L242.0 337.21 L242.5 337.20 L243.0 337.20 L243.5 337.20 L244.0 337.20 L244.5 337.20 L245.0 337.20 L245.5 337.20 L246.0 337.20 L246.5 337.20 L247.0 337.20 L247.5 337.20 L248.0 337.20 L248.5 337.20 L249.0 337.20 L249.5 337.20 L250.0 337.32 L250.5 337.42 L251.0 337.50 L251.5 337.57 L252.0 337.62 L252.5 337.66 L253.0 337.69 L253.5 337.71 L254.0 337.72 L254.5 337.73 L255.0 337.72 L255.5 337.71 L256.0 337.68 L256.5 337.62 L257.0 337.52 L257.5 337.37 L258.0 337.20 L258.5 338.27 L259.0 338.21 L259.5 338.09 L260.0 337.93 L260.5 337.75 L261.0 337.56 L261.5 337.38 L262.0 337.20 L262.0 336.5Z M270.0 336.5 L270.0 337.20 L270.5 337.20 L271.0 337.20 L271.5 337.36 L272.0 337.50 L272.5 337.62 L273.0 337.72 L273.5 337.79 L274.0 337.85 L274.5 337.88 L275.0 337.89 L275.5 337.85 L276.0 337.75 L276.5 337.59 L277.0 337.37 L277.5 337.20 L278.0 337.20 L278.0 336.5Z M325.0 336.5 L325.0 337.20 L325.5 337.85 L326.0 338.54 L326.5 339.11 L327.0 339.60 L327.5 340.03 L328.0 340.44 L328.5 340.81 L329.0 341.14 L329.5 341.44 L330.0 341.69 L330.5 341.90 L331.0 342.07 L331.5 342.19 L332.0 342.26 L332.5 342.30 L333.0 342.31 L333.5 342.30 L334.0 342.27 L334.5 342.22 L335.0 342.15 L335.5 342.06 L336.0 341.95 L336.5 341.80 L337.0 341.61 L337.5 341.36 L338.0 341.06 L338.5 340.73 L339.0 340.36 L339.5 339.96 L340.0 339.52 L340.5 339.04 L341.0 338.50 L341.5 337.88 L342.0 337.20 L342.5 337.36 L343.0 337.22 L343.5 337.20 L344.0 337.20 L344.5 337.20 L345.0 337.20 L345.5 337.20 L346.0 337.20 L346.5 337.20 L347.0 337.20 L347.5 337.20 L348.0 337.20 L348.5 337.20 L349.0 337.20 L349.5 337.37 L350.0 337.76 L350.5 338.06 L351.0 338.30 L351.5 338.47 L352.0 338.59 L352.5 338.65 L353.0 338.66 L353.5 338.61 L354.0 338.48 L354.5 338.27 L355.0 337.97 L355.5 337.57 L356.0 337.20 L356.0 336.5Z M400.5 336.5 L400.5 337.57 L401.0 338.16 L401.5 338.63 L402.0 339.04 L402.5 339.40 L403.0 339.72 L403.5 340.01 L404.0 340.26 L404.5 340.47 L405.0 340.65 L405.5 340.79 L406.0 340.91 L406.5 341.02 L407.0 341.11 L407.5 341.20 L408.0 341.26 L408.5 341.32 L409.0 341.38 L409.5 341.43 L410.0 341.48 L410.5 341.50 L411.0 341.45 L411.5 341.33 L412.0 341.13 L412.5 340.85 L413.0 340.48 L413.5 340.02 L414.0 339.45 L414.5 338.71 L415.0 337.35 L415.5 338.71 L416.0 338.14 L416.5 337.65 L417.0 337.25 L417.5 337.20 L418.0 337.20 L418.0 336.5Z M440.5 336.5 L440.5 337.30 L441.0 337.43 L441.5 337.54 L442.0 337.63 L442.5 337.72 L443.0 337.80 L443.5 337.89 L444.0 337.97 L444.5 338.04 L445.0 338.11 L445.5 338.17 L446.0 338.23 L446.5 338.28 L447.0 338.32 L447.5 338.36 L448.0 338.39 L448.5 338.41 L449.0 338.43 L449.5 338.44 L450.0 338.44 L450.5 338.44 L451.0 338.43 L451.5 338.41 L452.0 338.39 L452.5 338.36 L453.0 338.32 L453.5 338.27 L454.0 338.22 L454.5 338.16 L455.0 338.10 L455.5 338.03 L456.0 337.95 L456.5 337.87 L457.0 337.79 L457.5 337.72 L458.0 337.63 L458.5 337.52 L459.0 337.39 L459.5 337.22 L460.0 337.20 L460.5 337.73 L461.0 337.70 L461.5 337.64 L462.0 337.53 L462.5 337.41 L463.0 337.28 L463.5 337.20 L464.0 337.20 L464.5 337.20 L465.0 337.20 L465.0 336.5Z M475.0 336.5 L475.0 337.20 L475.0 336.5Z M492.0 336.5 L492.0 337.20 L492.5 339.22 L493.0 337.58 L493.5 340.67 L494.0 342.33 L494.5 343.65 L495.0 344.74 L495.5 345.64 L496.0 346.38 L496.5 346.95 L497.0 347.37 L497.5 347.61 L498.0 347.65 L498.5 347.48 L499.0 347.15 L499.5 346.67 L500.0 346.06 L500.5 345.29 L501.0 344.36 L501.5 343.25 L502.0 341.92 L502.5 340.27 L503.0 337.20 L503.5 338.10 L504.0 337.43 L504.5 337.20 L504.5 336.5Z M520.0 336.5 L520.0 337.20 L520.5 338.39 L521.0 339.08 L521.5 339.56 L522.0 339.91 L522.5 340.12 L523.0 340.21 L523.5 340.19 L524.0 340.07 L524.5 339.86 L525.0 339.55 L525.5 339.13 L526.0 338.58 L526.5 337.84 L526.5 336.5Z M541.0 336.5 L541.0 337.20 L541.5 337.20 L542.0 337.20 L542.5 337.20 L543.0 337.20 L543.5 337.20 L544.0 337.21 L544.5 337.20 L545.0 337.20 L545.5 337.20 L546.0 337.20 L546.0 336.5Z M556.0 336.5 L556.0 337.20 L556.5 337.85 L557.0 338.40 L557.5 338.73 L558.0 338.88 L558.5 338.85 L559.0 338.63 L559.5 338.21 L560.0 337.22 L560.5 338.89 L561.0 338.84 L561.5 338.79 L562.0 338.73 L562.5 338.67 L563.0 338.61 L563.5 338.55 L564.0 338.49 L564.5 338.43 L565.0 338.37 L565.5 338.31 L566.0 337.20 L566.0 336.5Z M577.5 336.5 L577.5 337.40 L578.0 337.94 L578.5 338.27 L579.0 338.47 L579.5 338.52 L580.0 338.43 L580.5 338.21 L581.0 337.20 L581.0 336.5Z M592.5 336.5 L592.5 337.79 L593.0 338.56 L593.5 339.20 L594.0 339.76 L594.5 340.26 L595.0 340.72 L595.5 341.15 L596.0 341.54 L596.5 341.88 L597.0 342.18 L597.5 342.44 L598.0 342.66 L598.5 342.84 L599.0 342.96 L599.5 343.04 L600.0 343.07 L600.5 343.05 L601.0 343.00 L601.5 342.92 L602.0 342.81 L602.5 342.66 L603.0 342.48 L603.5 342.27 L604.0 342.02 L604.5 341.73 L605.0 341.40 L605.5 341.03 L606.0 340.60 L606.5 340.09 L607.0 339.48 L607.5 338.70 L608.0 337.23 L608.5 338.76 L609.0 338.59 L609.5 338.44 L610.0 338.31 L610.5 338.20 L611.0 338.17 L611.5 338.19 L612.0 338.27 L612.5 338.34 L613.0 338.39 L613.5 338.41 L614.0 338.41 L614.5 338.39 L615.0 338.37 L615.5 338.35 L616.0 338.36 L616.5 338.38 L617.0 338.43 L617.5 338.50 L618.0 338.53 L618.5 338.47 L619.0 338.32 L619.5 338.07 L620.0 337.20 L620.0 336.5Z M641.0 336.5 L641.0 337.20 L641.5 337.20 L642.0 337.20 L642.5 337.20 L643.0 337.20 L643.5 337.20 L644.0 337.20 L644.5 337.20 L645.0 337.20 L645.5 337.20 L646.0 337.20 L646.5 337.20 L647.0 337.20 L647.5 337.20 L648.0 337.20 L648.5 337.54 L649.0 337.97 L649.5 338.34 L650.0 338.66 L650.5 338.97 L651.0 339.24 L651.5 339.48 L652.0 339.69 L652.5 339.87 L653.0 340.03 L653.5 340.18 L654.0 340.32 L654.5 340.45 L655.0 340.57 L655.5 340.68 L656.0 340.79 L656.5 340.89 L657.0 341.00 L657.5 341.09 L658.0 341.18 L658.5 341.26 L659.0 341.32 L659.5 341.35 L660.0 341.37 L660.5 341.36 L661.0 341.32 L661.5 341.27 L662.0 341.19 L662.5 341.08 L663.0 340.97 L663.5 340.84 L664.0 340.71 L664.5 340.56 L665.0 340.38 L665.5 340.17 L666.0 339.91 L666.5 339.62 L667.0 339.28 L667.5 338.91 L668.0 338.53 L668.5 338.13 L669.0 337.70 L669.5 337.23 L669.5 336.5Z M682.5 336.5 L682.5 337.20 L683.0 337.20 L683.5 339.09 L684.0 340.36 L684.5 341.38 L685.0 342.25 L685.5 342.99 L686.0 343.63 L686.5 344.20 L687.0 344.69 L687.5 345.12 L688.0 345.42 L688.5 345.59 L689.0 345.64 L689.5 345.55 L690.0 345.33 L690.5 344.98 L691.0 344.50 L691.5 343.89 L692.0 343.19 L692.5 342.43 L693.0 337.20 L693.0 336.5Z M722.5 336.5 L722.5 337.20 L723.0 337.27 L723.5 337.50 L724.0 337.67 L724.5 337.79 L725.0 337.86 L725.5 337.91 L726.0 337.92 L726.5 337.89 L727.0 337.82 L727.5 337.72 L728.0 337.58 L728.5 337.40 L729.0 337.20 L729.5 337.20 L729.5 336.5Z M741.5 336.5 L741.5 337.20 L742.0 337.53 L742.5 337.84 L743.0 338.07 L743.5 338.23 L744.0 338.32 L744.5 338.34 L745.0 338.28 L745.5 338.16 L746.0 337.20 L746.0 336.5Z M762.5 336.5 L762.5 337.20 L763.0 337.20 L763.5 337.37 L764.0 337.53 L764.5 337.64 L765.0 337.71 L765.5 337.74 L766.0 337.76 L766.5 337.74 L767.0 337.71 L767.5 337.65 L768.0 337.56 L768.5 337.44 L769.0 337.29 L769.5 337.20 L770.0 337.20 L770.5 337.20 L771.0 337.20 L771.5 337.20 L772.0 337.20 L772.5 337.20 L773.0 337.20 L773.5 337.58 L774.0 338.06 L774.5 338.45 L775.0 338.79 L775.5 339.10 L776.0 339.39 L776.5 339.66 L777.0 339.90 L777.5 340.12 L778.0 340.31 L778.5 340.45 L779.0 340.55 L779.5 340.59 L780.0 340.57 L780.5 340.49 L781.0 340.36 L781.5 340.18 L782.0 339.92 L782.5 339.60 L783.0 339.21 L783.5 338.77 L784.0 338.25 L784.5 337.62 L784.5 336.5Z M812.0 336.5 L812.0 337.20 L812.0 336.5Z M820.5 336.5 L820.5 337.31 L821.0 337.47 L821.5 337.61 L822.0 337.72 L822.5 337.80 L823.0 337.86 L823.5 337.90 L824.0 337.93 L824.5 337.95 L825.0 337.95 L825.5 337.93 L826.0 337.90 L826.5 337.86 L827.0 337.80 L827.5 337.73 L828.0 337.65 L828.5 337.56 L829.0 337.44 L829.5 337.29 L830.0 337.20 L830.5 337.22 L831.0 337.34 L831.5 337.43 L832.0 337.50 L832.5 337.55 L833.0 337.59 L833.5 337.62 L834.0 337.63 L834.5 337.64 L835.0 337.63 L835.5 337.61 L836.0 337.58 L836.5 337.54 L837.0 337.49 L837.5 337.42 L838.0 337.35 L838.5 337.26 L839.0 337.20 L839.5 337.20 L840.0 337.20 L840.5 337.39 L841.0 337.34 L841.5 337.29 L842.0 337.24 L842.5 337.20 L843.0 337.20 L843.5 337.20 L844.0 337.20 L844.5 337.20 L845.0 337.20 L845.5 337.20 L846.0 337.20 L846.5 337.20 L847.0 337.20 L847.5 337.26 L848.0 337.63 L848.5 337.92 L849.0 338.19 L849.5 338.43 L850.0 338.66 L850.5 338.88 L851.0 339.09 L851.5 339.29 L852.0 339.47 L852.5 339.64 L853.0 339.78 L853.5 339.91 L854.0 340.01 L854.5 340.10 L855.0 340.16 L855.5 340.19 L856.0 340.21 L856.5 340.20 L857.0 340.18 L857.5 340.15 L858.0 340.10 L858.5 340.04 L859.0 339.98 L859.5 339.93 L860.0 339.89 L860.5 339.87 L861.0 339.85 L861.5 339.85 L862.0 339.87 L862.5 339.89 L863.0 339.93 L863.5 339.96 L864.0 339.96 L864.5 339.86 L865.0 339.67 L865.5 339.39 L866.0 339.05 L866.5 338.64 L867.0 338.16 L867.5 337.57 L868.0 337.20 L868.0 336.5Z M887.5 336.5 L887.5 337.20 L888.0 337.20 L888.5 337.20 L889.0 337.29 L889.5 337.39 L890.0 337.47 L890.5 337.54 L891.0 337.63 L891.5 337.71 L892.0 337.80 L892.5 337.90 L893.0 337.99 L893.5 338.10 L894.0 338.20 L894.5 338.29 L895.0 338.33 L895.5 338.33 L896.0 338.29 L896.5 338.20 L897.0 338.08 L897.5 337.91 L898.0 337.70 L898.5 337.45 L899.0 337.20 L899.0 336.5Z M915.0 336.5 L915.0 337.20 L915.5 337.72 L916.0 338.27 L916.5 338.72 L917.0 339.10 L917.5 339.43 L918.0 339.73 L918.5 339.99 L919.0 340.20 L919.5 340.37 L920.0 340.50 L920.5 340.57 L921.0 340.60 L921.5 340.55 L922.0 340.42 L922.5 340.20 L923.0 339.91 L923.5 339.55 L924.0 339.13 L924.5 338.77 L925.0 338.32 L925.5 337.74 L926.0 337.20 L926.0 336.5Z " fill="#d80000"/>
<path d="M2.5 327.0C2.9 326.9 3.8 326.2 5.0 326.1C6.2 326.0 8.0 326.4 10.0 326.6C12.0 326.8 14.8 326.8 16.8 327.3C18.8 327.8 20.2 328.1 21.9 329.5C23.6 330.9 25.3 333.4 27.0 335.4C28.7 337.4 30.3 339.9 32.0 341.3C33.7 342.8 35.3 343.8 37.0 344.1C38.7 344.4 40.4 344.0 42.1 343.0C43.8 342.0 45.5 340.0 47.2 337.9C48.9 335.8 50.2 332.4 52.2 330.3C54.2 328.2 56.8 327.1 59.0 325.3C61.2 323.5 64.0 320.3 65.7 319.4C67.4 318.5 67.7 319.3 69.1 319.9C70.5 320.4 72.1 321.4 74.1 322.7C76.1 324.0 78.7 326.0 80.9 327.8C83.2 329.6 85.6 331.6 87.6 333.7C89.6 335.8 91.0 337.9 92.7 340.4C94.4 342.9 96.0 346.9 97.7 348.9C99.4 350.9 100.8 352.3 102.8 352.6C104.8 352.9 107.2 351.7 109.5 350.5C111.8 349.3 114.0 347.0 116.3 345.5C118.5 344.0 120.8 342.5 123.0 341.3C125.2 340.1 127.4 338.3 129.7 338.4C131.9 338.5 134.2 341.6 136.5 342.1C138.8 342.6 140.7 341.9 143.2 341.3C145.7 340.8 149.1 339.7 151.6 338.8C154.1 337.9 156.4 337.8 158.4 336.2C160.4 334.6 162.3 330.9 163.4 329.5C164.5 328.1 163.6 328.9 165.0 327.8C166.4 326.7 169.4 322.7 171.7 322.7C173.9 322.7 176.0 326.9 178.5 327.8C181.0 328.7 184.7 328.2 186.9 327.8C189.2 327.4 190.0 326.4 192.0 325.3C194.0 324.2 196.2 321.7 198.7 321.1C201.2 320.5 204.6 320.8 207.1 321.9C209.6 323.0 211.9 325.4 213.9 327.8C215.9 330.2 216.9 333.5 218.9 336.2C220.9 338.9 223.4 343.2 225.7 343.8C227.9 344.4 230.2 339.7 232.4 339.6C234.6 339.5 236.6 342.0 239.1 343.0C241.6 344.0 244.5 344.1 247.6 345.5C250.7 346.9 254.6 350.8 257.7 351.4C260.8 352.0 263.6 348.6 266.1 348.9C268.6 349.2 271.0 352.0 272.8 353.1C274.6 354.2 275.3 356.6 277.0 355.6C278.7 354.6 280.8 350.3 282.9 347.2C285.0 344.1 287.4 339.9 289.7 337.1C291.9 334.3 294.1 332.3 296.4 330.3C298.6 328.3 300.9 327.0 303.2 325.3C305.4 323.6 307.7 322.7 309.9 320.2C312.1 317.7 314.5 312.6 316.6 310.1C318.7 307.6 320.8 305.1 322.5 305.1C324.2 305.1 325.6 308.2 326.8 310.1C328.1 312.1 328.6 314.3 330.0 316.8C331.4 319.3 333.6 322.9 335.0 325.3C336.4 327.7 336.4 330.4 338.4 331.2C340.4 332.0 344.0 329.8 346.8 330.3C349.6 330.9 352.8 334.8 355.3 334.5C357.8 334.2 359.2 329.7 362.0 328.6C364.8 327.5 369.3 328.2 372.1 327.8C374.9 327.4 376.4 325.8 378.9 326.1C381.4 326.4 384.5 329.5 387.3 329.5C390.1 329.5 393.2 326.1 395.7 326.1C398.2 326.1 400.5 328.2 402.5 329.5C404.5 330.8 405.8 330.9 407.5 333.7C409.2 336.5 410.6 344.5 412.6 346.3C414.6 348.1 416.8 346.3 419.3 344.6C421.8 342.9 425.0 338.9 427.7 336.2C430.4 333.5 433.1 329.6 435.3 328.6C437.6 327.6 438.5 329.0 441.2 330.3C443.9 331.6 448.2 334.5 451.3 336.2C454.4 337.9 456.6 340.1 459.7 340.4C462.8 340.7 467.0 338.7 469.8 337.9C472.6 337.1 474.6 338.6 476.6 335.4C478.6 332.2 479.4 322.1 481.6 318.5C483.9 314.9 488.0 312.9 490.1 313.5C492.2 314.1 492.8 318.2 494.3 321.9C495.8 325.5 497.7 332.7 499.2 335.4C500.7 338.1 501.6 338.6 503.4 337.9C505.2 337.2 508.1 332.9 510.2 331.2C512.3 329.5 514.1 327.1 516.1 327.8C518.1 328.5 520.2 334.0 522.0 335.4C523.8 336.8 525.3 337.5 527.0 336.2C528.7 334.9 530.1 329.4 532.1 327.8C534.1 326.2 536.6 326.2 538.8 326.6C541.0 327.0 543.2 330.4 545.5 330.3C547.8 330.2 550.0 326.1 552.3 326.1C554.5 326.1 556.5 329.2 559.0 330.3C561.5 331.4 565.5 334.7 567.5 332.9C569.5 331.1 569.7 322.1 570.8 319.4C571.9 316.7 572.8 316.2 574.2 316.8C575.6 317.4 577.2 322.7 579.2 322.7C581.2 322.7 584.0 317.6 586.0 316.8C588.0 316.0 589.3 316.6 591.0 317.7C592.7 318.8 594.1 320.7 596.1 323.6C598.1 326.6 600.8 331.9 602.8 335.4C604.8 338.9 606.2 342.5 607.9 344.6C609.6 346.7 610.9 347.1 612.9 348.0C614.9 348.9 617.5 351.2 619.7 349.7C622.0 348.2 624.1 341.2 626.4 338.8C628.6 336.4 631.0 336.0 633.2 335.4C635.5 334.8 637.4 335.0 639.9 335.4C642.4 335.8 645.5 335.4 648.3 337.9C651.1 340.4 654.8 347.4 656.8 350.5C658.8 353.6 658.4 354.1 660.0 356.4C661.6 358.6 664.7 363.1 666.7 364.0C668.7 364.9 670.1 363.8 671.8 361.5C673.5 359.2 675.2 352.6 676.8 350.5C678.3 348.4 679.7 348.3 681.1 349.2C682.5 350.1 683.9 352.7 685.3 355.6C686.7 358.5 688.1 364.8 689.5 366.6C690.9 368.4 691.9 367.9 693.7 366.6C695.5 365.3 698.1 362.9 700.4 359.0C702.6 355.1 705.2 346.9 707.2 343.0C709.2 339.1 710.5 338.3 712.2 335.4C713.9 332.4 715.9 327.6 717.3 325.3C718.7 323.1 719.0 321.8 720.7 321.9C722.4 322.0 725.2 325.4 727.4 326.1C729.6 326.8 732.1 326.7 734.1 326.1C736.1 325.5 737.5 322.4 739.2 322.7C740.9 323.0 742.2 327.6 744.2 327.8C746.2 328.0 749.0 325.2 751.0 323.6C753.0 322.1 754.3 319.6 756.0 318.5C757.7 317.4 758.9 316.5 761.1 316.8C763.4 317.1 767.0 319.2 769.5 320.2C772.0 321.2 774.6 321.3 776.3 322.7C778.0 324.1 778.4 327.1 779.6 328.6C780.9 330.2 782.4 332.3 783.8 332.0C785.2 331.7 786.3 328.4 788.1 327.0C789.9 325.6 792.8 324.8 794.8 323.6C796.8 322.4 797.8 320.5 799.8 319.9C801.8 319.3 804.4 320.0 806.6 320.2C808.9 320.4 811.3 321.7 813.3 321.1C815.3 320.5 816.7 317.0 818.4 316.8C820.1 316.6 821.1 319.1 823.4 320.2C825.7 321.3 829.2 322.8 832.1 323.6C835.0 324.5 837.7 325.0 840.5 325.3C843.3 325.6 846.5 324.2 849.0 325.3C851.5 326.4 853.7 330.2 855.7 332.0C857.7 333.8 859.1 333.4 860.8 336.2C862.5 339.0 864.1 348.5 865.8 348.9C867.5 349.3 869.2 341.9 870.9 338.8C872.6 335.7 874.1 332.8 875.9 330.3C877.7 327.8 879.8 324.3 881.8 323.6C883.8 322.9 886.0 325.8 887.7 326.1C889.4 326.4 890.5 324.7 891.9 325.3C893.3 325.9 894.5 329.4 896.1 329.5C897.7 329.6 899.2 328.1 901.2 326.1C903.2 324.1 906.1 319.5 907.9 317.7C909.7 315.9 910.8 315.1 912.2 315.2C913.6 315.3 914.6 316.4 916.4 318.5C918.2 320.6 921.6 326.7 923.1 327.8C924.6 328.9 925.2 325.7 925.6 325.3" stroke="#2b96dc" stroke-width="1.4" fill="none" stroke-linejoin="round"/>
<path d="M2.5 330.3C3.8 329.7 7.3 327.0 10.0 326.6C12.7 326.2 15.9 326.8 18.5 327.8C21.1 328.9 22.8 330.9 25.3 332.9C27.8 334.9 30.9 337.8 33.7 339.6C36.5 341.4 39.9 343.4 42.1 343.8C44.4 344.2 45.2 343.8 47.2 342.1C49.2 340.4 51.6 336.2 53.9 333.7C56.1 331.2 57.9 329.2 60.7 327.0C63.5 324.8 68.0 320.8 70.8 320.2C73.6 319.6 75.3 322.1 77.5 323.6C79.7 325.2 81.7 327.4 84.2 329.5C86.7 331.6 90.2 333.8 92.7 336.2C95.2 338.6 97.2 341.1 99.4 343.8C101.6 346.5 104.1 351.1 106.1 352.2C108.1 353.3 109.2 351.5 111.2 350.5C113.2 349.5 115.7 347.8 117.9 346.3C120.2 344.8 122.5 342.6 124.7 341.3C127.0 340.1 128.9 338.8 131.4 338.8C133.9 338.8 137.0 341.2 139.8 341.3C142.6 341.4 145.5 340.4 148.3 339.6C151.1 338.8 153.9 338.1 156.7 336.7C159.5 335.3 162.2 333.2 165.0 331.2C167.8 329.1 170.6 325.1 173.4 324.4C176.2 323.7 179.0 326.5 181.8 327.0C184.6 327.5 187.5 328.0 190.3 327.3C193.1 326.6 195.9 323.6 198.7 322.7C201.5 321.8 204.6 321.2 207.1 321.6C209.6 322.0 211.4 322.7 213.9 325.3C216.4 327.9 219.8 334.2 222.3 337.1C224.8 340.1 226.8 342.3 229.0 343.0C231.2 343.7 233.3 341.2 235.8 341.3C238.3 341.4 241.1 342.5 244.2 343.8C247.3 345.1 250.7 347.9 254.3 348.9C258.0 349.9 262.7 349.0 266.1 349.7C269.5 350.4 272.0 352.3 274.5 353.1C277.0 353.9 278.8 356.0 281.3 354.3C283.8 352.6 286.9 346.6 289.7 343.0C292.5 339.4 295.0 335.8 298.1 332.9C301.2 329.9 305.1 328.2 308.2 325.3C311.3 322.4 313.8 318.4 316.6 315.2C319.4 312.0 322.9 307.1 325.1 306.4C327.3 305.7 327.5 307.1 330.0 311.0C332.5 314.9 336.7 326.1 340.1 329.5C343.5 332.9 347.4 330.6 350.2 331.2C353.0 331.8 354.8 333.2 357.0 332.9C359.2 332.6 360.9 330.2 363.7 329.5C366.5 328.8 371.0 329.2 373.8 328.6C376.6 328.0 378.0 326.1 380.5 326.1C383.0 326.1 386.2 328.5 389.0 328.6C391.8 328.8 394.6 326.4 397.4 327.0C400.2 327.6 403.3 329.8 405.8 332.0C408.3 334.2 410.6 338.1 412.6 340.4C414.6 342.6 415.6 345.2 417.6 345.5C419.6 345.8 422.1 343.9 424.4 342.1C426.6 340.3 428.6 336.5 431.1 334.5C433.6 332.5 436.7 330.1 439.5 330.0C442.3 329.9 444.8 332.2 447.9 333.7C451.0 335.2 454.7 337.9 458.1 338.8C461.5 339.7 464.8 339.7 468.2 338.8C471.6 337.9 475.5 336.4 478.3 333.7C481.1 331.0 482.8 325.9 485.0 322.7C487.2 319.5 489.9 314.9 491.8 314.3C493.7 313.7 495.1 316.2 496.5 319.0C497.9 321.8 499.1 327.9 500.5 331.0C501.9 334.1 503.2 337.7 505.1 337.9C507.0 338.1 509.7 333.5 511.8 332.0C513.9 330.5 515.5 328.3 517.7 329.0C520.0 329.7 522.9 335.4 525.3 336.2C527.7 337.0 529.9 335.2 532.1 333.7C534.4 332.2 536.0 327.6 538.8 327.0C541.6 326.4 545.8 330.3 548.9 330.3C552.0 330.3 553.9 326.7 557.3 327.0C560.7 327.3 566.0 333.1 569.1 332.0C572.2 330.9 573.6 322.0 575.9 320.2C578.1 318.4 580.4 321.5 582.6 321.1C584.9 320.7 586.9 317.3 589.4 317.7C591.9 318.1 595.3 320.7 597.8 323.6C600.3 326.6 602.5 331.9 604.5 335.4C606.5 338.9 607.6 342.6 609.6 344.6C611.6 346.6 614.0 346.8 616.3 347.2C618.5 347.6 620.6 348.6 623.1 347.2C625.6 345.8 628.7 340.8 631.5 338.8C634.3 336.8 636.8 335.5 639.9 335.4C643.0 335.2 646.6 335.3 650.0 337.9C653.4 340.5 656.9 346.7 660.1 351.0C663.3 355.3 666.5 362.6 669.3 363.7C672.1 364.8 674.4 359.6 676.8 357.3C679.2 355.0 681.6 350.0 683.6 349.7C685.6 349.4 686.9 352.8 688.6 355.6C690.3 358.4 691.7 365.3 693.7 366.6C695.7 367.9 697.6 367.7 700.4 363.2C703.2 358.7 707.7 345.1 710.5 339.6C713.3 334.1 715.3 333.0 717.3 330.3C719.3 327.6 720.0 324.2 722.3 323.6C724.5 323.1 728.0 326.9 730.8 327.0C733.6 327.1 736.4 324.5 739.2 324.4C742.0 324.2 745.1 326.7 747.6 326.1C750.1 325.6 751.9 322.7 754.4 321.1C756.9 319.6 760.0 317.0 762.8 316.8C765.6 316.6 768.7 319.1 771.2 320.2C773.7 321.3 775.6 321.8 777.9 323.6C780.1 325.4 782.2 330.6 784.7 331.2C787.2 331.8 790.3 328.7 793.1 327.0C795.9 325.3 798.4 322.1 801.5 321.1C804.6 320.1 808.5 321.7 811.6 321.1C814.7 320.5 816.7 317.6 820.1 317.7C823.5 317.8 828.7 320.8 832.1 321.9C835.5 323.0 837.7 323.8 840.5 324.4C843.3 325.0 846.8 324.6 849.0 325.3C851.2 326.0 852.0 326.8 854.0 328.6C856.0 330.4 858.5 333.4 860.8 336.2C863.0 339.0 865.3 345.1 867.5 345.5C869.7 345.9 871.4 342.0 874.2 338.8C877.0 335.6 881.3 328.2 884.4 326.1C887.5 324.0 890.0 325.8 892.8 326.1C895.6 326.4 898.7 328.8 901.2 327.8C903.7 326.8 905.6 322.2 907.9 320.2C910.1 318.2 912.7 316.3 914.7 316.0C916.7 315.7 917.9 316.8 919.7 318.5C921.5 320.2 924.6 324.8 925.6 326.1" stroke="#dc2424" stroke-width="1.4" fill="none" stroke-linejoin="round"/>
<path d="M3.0 392.8 L4.2 393.3 L5.5 394.3 L6.7 396.2 L7.9 395.4 L8.9 395.2 L9.9 395.2 L10.9 395.4 L11.9 393.9 L12.9 394.9 L13.9 394.8 L14.9 394.9 L15.8 395.1 L16.8 393.8 L17.8 393.8 L18.8 395.8 L19.8 397.8 L20.8 396.9 L21.8 399.9 L22.8 400.0 L23.8 399.8 L24.8 398.0 L25.8 400.9 L26.8 400.6 L27.8 398.8 L28.8 400.5 L29.8 401.6 L30.7 401.3 L31.7 403.7 L32.7 401.7 L33.7 403.2 L34.7 401.3 L35.7 401.4 L36.7 401.2 L37.7 401.8 L38.7 400.0 L39.7 401.2 L40.6 400.8 L41.6 400.8 L42.6 401.0 L43.6 398.9 L44.6 398.3 L45.6 396.8 L46.6 395.4 L47.6 394.7 L48.6 392.6 L49.6 391.4 L50.6 391.6 L51.5 395.1 L52.5 396.1 L53.5 395.4 L54.5 396.1 L55.5 395.2 L56.5 393.5 L57.5 392.7 L58.5 392.5 L59.5 392.8 L60.7 390.4 L61.9 391.9 L63.0 389.8 L64.2 390.4 L65.4 388.3 L66.4 389.3 L67.4 392.6 L68.4 393.6 L69.4 393.8 L70.6 392.3 L71.8 393.2 L72.9 395.8 L74.1 394.5 L75.3 394.8 L76.3 397.7 L77.3 397.0 L78.3 397.1 L79.3 399.8 L80.4 400.1 L81.6 400.5 L82.7 398.6 L83.8 397.8 L84.9 398.5 L86.1 400.5 L87.2 398.8 L88.2 401.3 L89.2 400.8 L90.2 402.9 L91.2 404.0 L92.2 405.6 L93.2 408.7 L94.4 409.1 L95.6 406.4 L96.7 407.1 L97.9 406.1 L99.1 405.7 L100.1 404.3 L101.1 405.8 L102.1 403.4 L103.1 404.9 L104.1 402.7 L105.1 403.7 L106.2 402.7 L107.4 401.3 L108.5 400.8 L109.6 402.5 L110.7 401.2 L111.9 398.8 L113.0 398.8 L114.2 400.1 L115.4 397.8 L116.5 398.4 L117.7 400.0 L118.9 398.8 L119.9 399.1 L120.9 397.1 L121.9 400.0 L122.9 397.2 L123.9 397.1 L124.9 397.8 L126.1 400.1 L127.3 400.0 L128.4 401.2 L129.6 401.9 L130.8 404.7 L131.8 402.7 L132.8 403.7 L133.8 401.9 L134.8 402.4 L135.8 401.0 L136.8 400.8 L138.0 400.4 L139.2 402.0 L140.3 400.1 L141.5 400.3 L142.7 399.8 L143.8 400.3 L145.0 397.3 L146.1 396.5 L147.2 398.3 L148.3 397.3 L149.5 394.7 L150.6 394.8 L151.7 394.5 L152.9 397.0 L154.0 398.4 L155.2 396.6 L156.3 399.9 L157.5 400.4 L158.6 399.8 L159.8 397.7 L161.1 394.6 L162.3 391.0 L163.5 389.9 L164.7 388.6 L165.8 392.1 L167.0 390.0 L168.2 391.9 L169.3 390.7 L170.5 391.8 L171.7 394.3 L172.9 394.9 L174.0 395.3 L175.2 396.3 L176.4 398.8 L177.4 398.5 L178.4 395.3 L179.4 394.9 L180.4 395.0 L181.4 395.0 L182.4 392.8 L183.4 394.7 L184.4 395.1 L185.3 398.7 L186.3 398.8 L187.3 396.0 L188.3 393.7 L189.3 392.8 L190.3 391.8 L191.5 391.2 L192.7 389.4 L193.8 389.3 L195.0 389.5 L196.2 389.5 L197.1 390.5 L198.1 389.8 L199.0 391.8 L200.0 391.8 L200.9 394.1 L201.9 394.9 L202.9 393.8 L203.9 393.2 L204.9 392.1 L205.9 390.3 L206.9 392.4 L207.9 392.7 L208.9 395.8 L210.1 395.4 L211.3 396.6 L212.4 400.8 L213.6 401.3 L214.8 401.8 L215.8 404.6 L216.8 402.7 L217.8 406.0 L218.8 406.8 L219.8 408.1 L221.0 408.3 L222.2 406.3 L223.5 408.0 L224.7 405.7 L225.7 402.7 L226.7 402.7 L227.7 401.8 L228.7 400.7 L229.7 397.8 L230.7 398.6 L231.7 398.5 L232.7 397.8 L233.7 400.8 L234.6 403.1 L235.6 403.7 L236.6 403.5 L237.6 405.0 L238.6 404.7 L239.8 403.4 L241.0 399.4 L242.1 402.1 L243.2 402.0 L244.3 404.8 L245.4 406.5 L246.5 406.7 L247.5 406.6 L248.5 406.5 L249.5 405.3 L250.5 405.6 L251.5 405.4 L252.5 404.7 L253.5 404.3 L254.4 407.2 L255.4 409.4 L256.4 408.7 L257.4 408.4 L258.4 406.3 L259.4 403.6 L260.4 403.2 L261.4 400.8 L262.4 403.5 L263.4 405.7 L264.4 403.9 L265.4 403.6 L266.4 400.8 L267.6 400.8 L268.8 404.4 L269.9 403.3 L271.1 406.7 L272.3 407.7 L273.3 408.0 L274.3 407.6 L275.3 409.6 L276.3 409.3 L277.5 406.4 L278.7 403.9 L279.8 402.0 L281.0 396.9 L282.2 394.8 L283.2 394.6 L284.2 397.1 L285.2 399.9 L286.2 400.8 L287.2 397.1 L288.2 394.3 L289.2 392.8 L290.4 394.7 L291.6 394.3 L292.9 394.1 L294.1 394.8 L295.1 395.9 L296.1 393.7 L297.1 394.6 L298.1 393.8 L299.3 391.7 L300.6 391.4 L301.8 391.6 L303.0 389.5 L304.0 391.3 L305.0 391.6 L306.0 390.2 L307.0 391.3 L308.0 391.4 L309.0 389.2 L309.9 386.9 L310.9 386.5 L311.9 384.9 L312.9 385.8 L313.9 385.6 L314.9 384.9 L315.9 383.9 L316.9 386.2 L317.9 384.6 L318.9 385.0 L319.9 386.9 L320.9 386.1 L321.8 384.8 L322.8 384.9 L323.8 386.9 L324.8 390.6 L325.8 394.3 L326.8 396.8 L327.8 397.0 L328.8 396.6 L329.8 398.6 L330.8 399.2 L331.8 397.8 L333.0 398.6 L334.2 398.4 L335.5 399.2 L336.7 401.8 L337.7 401.6 L338.7 397.2 L339.7 398.0 L340.7 395.8 L341.9 395.8 L343.1 394.7 L344.4 396.0 L345.6 394.8 L346.6 394.8 L347.6 396.9 L348.6 399.8 L349.6 400.0 L350.6 398.9 L351.6 400.8 L352.8 399.9 L354.1 395.9 L355.3 393.6 L356.5 392.8 L357.5 394.3 L358.5 398.8 L359.5 399.0 L360.5 398.2 L361.5 398.6 L362.5 398.5 L363.5 397.8 L364.7 398.2 L365.9 398.2 L367.0 396.6 L368.2 394.4 L369.4 394.8 L370.4 394.5 L371.4 393.4 L372.4 392.6 L373.4 394.0 L374.4 394.7 L375.4 393.8 L376.6 393.1 L377.8 393.8 L378.9 394.5 L380.1 396.1 L381.3 395.8 L382.3 396.3 L383.3 397.0 L384.3 397.9 L385.3 397.0 L386.3 397.8 L387.3 395.6 L388.3 391.4 L389.3 393.7 L390.2 391.9 L391.2 394.2 L392.3 395.0 L393.4 393.6 L394.4 390.8 L395.5 391.4 L396.7 394.4 L397.9 397.8 L398.9 398.5 L399.9 399.7 L400.9 398.1 L401.9 398.8 L402.9 400.0 L403.9 402.1 L404.9 401.8 L406.1 404.0 L407.3 405.7 L408.4 405.2 L409.6 407.0 L410.8 407.7 L411.8 404.7 L412.8 404.5 L413.8 401.8 L414.8 402.9 L415.8 402.3 L416.8 402.5 L417.8 401.8 L418.8 399.8 L419.7 399.8 L420.7 399.9 L421.7 398.9 L422.7 397.7 L423.7 394.8 L424.7 394.7 L425.7 395.3 L426.7 393.4 L427.7 393.8 L428.7 394.8 L429.6 394.2 L430.6 392.1 L431.6 392.2 L432.6 391.2 L433.6 392.8 L434.6 393.6 L435.6 393.8 L436.6 396.4 L437.6 397.1 L438.6 398.8 L439.8 397.4 L441.1 400.4 L442.3 398.1 L443.5 399.8 L444.5 400.8 L445.5 398.7 L446.5 399.2 L447.5 399.8 L448.7 401.0 L449.9 399.0 L451.0 399.2 L452.2 400.7 L453.4 400.8 L454.4 401.8 L455.4 402.5 L456.4 402.2 L457.4 401.8 L458.6 402.7 L459.8 400.6 L460.9 401.5 L462.1 398.0 L463.3 398.8 L464.3 397.7 L465.3 398.6 L466.3 397.6 L467.3 398.9 L468.3 398.4 L469.3 397.8 L470.5 398.1 L471.8 399.5 L473.0 398.8 L474.2 398.8 L475.2 393.2 L476.2 388.9 L477.2 387.1 L478.2 387.4 L479.2 386.2 L480.2 383.5 L481.2 384.9 L482.2 389.6 L483.2 390.8 L484.2 392.6 L485.1 391.4 L486.1 391.8 L487.1 391.8 L488.1 391.0 L489.1 392.3 L490.1 392.4 L491.1 393.0 L492.1 392.8 L493.1 394.2 L494.1 400.3 L495.0 401.8 L496.0 404.7 L497.0 403.8 L498.0 404.6 L499.0 403.2 L500.0 402.3 L501.0 401.8 L502.0 401.4 L503.0 398.3 L504.0 398.9 L505.0 397.8 L506.2 396.5 L507.4 397.4 L508.7 396.2 L509.9 393.8 L510.9 393.3 L511.9 394.2 L512.9 393.3 L513.9 394.8 L514.9 394.9 L515.9 396.5 L516.9 395.8 L518.1 399.1 L519.3 399.7 L520.6 401.1 L521.8 403.7 L522.8 400.9 L523.8 400.5 L524.8 399.8 L525.8 395.3 L526.8 394.8 L527.8 395.0 L528.8 391.7 L529.7 391.5 L530.7 391.8 L531.7 391.5 L532.7 393.6 L533.7 393.0 L534.7 393.7 L535.7 394.8 L536.7 395.7 L537.7 394.5 L538.7 397.1 L539.7 396.8 L540.9 395.8 L542.2 397.3 L543.4 396.7 L544.6 397.8 L545.6 395.5 L546.6 395.3 L547.6 393.6 L548.6 392.1 L549.6 390.9 L550.6 389.9 L551.6 391.0 L552.5 390.7 L553.5 391.8 L554.5 393.8 L555.5 395.6 L556.5 397.1 L557.5 398.1 L558.5 399.4 L559.5 400.1 L560.5 398.8 L561.4 399.1 L562.4 397.4 L563.4 397.6 L564.4 400.5 L565.4 400.8 L566.4 398.6 L567.4 395.7 L568.4 390.5 L569.4 387.9 L570.7 386.5 L572.0 386.3 L573.1 390.4 L574.1 390.6 L575.2 395.9 L576.3 396.8 L577.3 397.0 L578.3 393.3 L579.3 392.5 L580.3 393.0 L581.3 390.2 L582.3 389.9 L583.3 388.6 L584.2 391.2 L585.2 389.9 L586.2 390.3 L587.5 392.3 L588.7 391.0 L590.0 393.3 L591.2 393.8 L592.5 395.7 L593.7 394.3 L594.9 396.8 L595.9 396.8 L596.9 399.4 L597.9 401.2 L598.9 400.8 L599.9 404.7 L600.8 404.1 L601.8 407.7 L602.8 406.7 L603.8 406.6 L604.8 404.7 L605.8 404.3 L606.8 402.7 L607.8 402.3 L608.8 402.6 L609.8 404.7 L610.8 402.4 L611.8 401.2 L612.7 402.0 L613.7 400.8 L614.7 402.3 L615.7 404.0 L616.7 404.0 L617.7 406.7 L618.7 403.3 L619.7 401.1 L620.7 399.8 L621.7 399.7 L622.7 399.0 L623.6 397.5 L624.6 394.8 L625.6 393.6 L626.6 393.7 L627.6 396.9 L628.6 395.5 L629.6 395.8 L630.6 397.7 L631.6 397.2 L632.6 398.7 L633.6 399.8 L634.6 398.9 L635.5 397.6 L636.5 397.1 L637.5 395.8 L638.5 395.3 L639.5 398.9 L640.5 400.6 L641.5 399.5 L642.5 401.8 L643.5 400.9 L644.5 401.1 L645.4 399.2 L646.4 398.8 L647.4 399.5 L648.4 401.2 L649.4 404.2 L650.4 404.3 L651.4 407.7 L652.4 409.4 L653.4 409.5 L654.4 409.6 L655.4 410.5 L656.4 409.7 L657.6 410.7 L658.8 410.6 L659.9 411.8 L661.1 412.1 L662.3 412.7 L663.3 414.6 L664.3 414.3 L665.3 413.6 L666.5 410.3 L667.8 410.0 L669.0 407.0 L670.2 403.7 L671.2 404.2 L672.2 403.8 L673.2 402.0 L674.2 401.8 L675.2 401.9 L676.2 400.7 L677.2 398.2 L678.2 400.7 L679.1 402.8 L680.1 403.7 L681.1 406.1 L682.1 406.4 L683.1 409.0 L684.1 409.7 L685.1 410.7 L686.1 414.6 L687.1 414.1 L688.1 414.5 L689.1 414.6 L690.1 404.7 L691.3 402.8 L692.5 403.7 L693.8 404.4 L695.0 403.7 L696.0 404.1 L697.0 402.8 L698.0 403.7 L699.0 403.6 L700.0 401.0 L701.0 398.8 L702.2 397.9 L703.5 398.6 L704.7 398.0 L705.9 397.4 L706.9 397.0 L707.9 396.0 L708.9 397.6 L709.9 395.4 L711.1 394.7 L712.3 393.8 L713.6 392.8 L714.8 390.8 L715.8 392.6 L716.8 389.6 L717.8 391.8 L718.8 392.4 L719.8 391.8 L720.8 393.5 L721.8 396.8 L723.0 396.2 L724.2 394.8 L725.5 395.0 L726.7 395.8 L727.7 395.2 L728.7 394.0 L729.7 394.4 L730.7 396.4 L731.7 394.8 L732.7 394.0 L733.7 392.8 L734.6 393.4 L735.6 390.8 L736.6 391.7 L737.6 393.8 L738.6 392.8 L739.6 394.5 L740.6 396.4 L741.6 395.1 L742.6 397.8 L743.8 396.7 L745.0 395.9 L746.3 392.1 L747.5 392.2 L748.5 393.8 L749.5 391.3 L750.5 392.6 L751.5 392.8 L752.5 390.2 L753.5 389.8 L754.5 388.3 L755.5 389.8 L756.4 389.1 L757.4 391.8 L758.7 391.9 L760.0 388.9 L761.0 389.9 L762.0 391.6 L763.0 392.8 L764.0 393.5 L765.0 393.0 L766.0 393.8 L767.0 392.8 L768.0 393.8 L768.9 393.3 L769.9 392.8 L770.9 392.8 L771.9 395.0 L772.9 394.4 L773.9 395.8 L774.9 395.9 L775.8 398.4 L776.8 399.4 L777.8 402.7 L778.8 400.6 L779.8 401.6 L780.8 399.4 L781.8 398.8 L782.8 398.4 L783.8 396.1 L784.8 392.0 L785.8 391.8 L787.0 394.3 L788.2 395.1 L789.3 393.0 L790.5 396.7 L791.7 396.2 L792.7 394.0 L793.7 392.2 L794.7 390.3 L795.9 392.3 L797.2 390.2 L798.4 391.5 L799.6 391.8 L800.6 393.7 L801.6 393.4 L802.6 392.9 L803.6 393.4 L804.6 394.4 L805.6 393.2 L806.6 391.8 L807.6 390.8 L808.6 390.0 L809.5 392.2 L810.5 392.1 L811.5 392.8 L812.5 390.6 L813.5 388.8 L814.5 389.2 L815.5 387.9 L816.5 388.1 L817.5 390.7 L818.5 392.9 L819.5 393.8 L820.6 393.1 L821.8 391.9 L822.9 392.4 L824.0 391.3 L825.1 392.0 L826.3 390.6 L827.4 389.9 L828.6 394.1 L829.8 396.4 L831.1 398.1 L832.3 399.8 L833.3 396.9 L834.3 394.5 L835.3 393.8 L836.3 396.1 L837.3 396.8 L838.3 397.2 L839.3 397.8 L840.5 396.3 L841.8 395.0 L843.0 395.4 L844.2 393.8 L845.2 394.8 L846.2 395.7 L847.2 396.7 L848.2 397.9 L849.2 397.8 L850.2 397.2 L851.2 397.9 L852.2 400.9 L853.2 399.8 L854.4 401.8 L855.6 402.2 L856.7 400.0 L857.9 400.6 L859.1 402.7 L860.1 402.7 L861.1 404.0 L862.1 405.5 L863.1 404.5 L864.1 406.7 L865.1 403.9 L866.0 399.3 L867.0 396.4 L868.0 394.8 L869.0 395.5 L870.0 395.2 L871.0 395.6 L872.0 394.8 L873.0 395.4 L874.1 394.5 L875.3 392.7 L876.5 392.3 L877.6 392.8 L878.8 392.3 L879.9 390.3 L880.9 390.0 L881.9 391.3 L882.9 393.8 L883.9 395.9 L884.9 396.2 L885.9 397.7 L886.9 397.8 L887.9 395.5 L888.8 394.9 L889.8 393.8 L890.8 394.2 L891.8 397.3 L892.8 397.0 L893.8 399.1 L894.8 399.8 L895.8 399.9 L896.8 396.0 L897.7 395.2 L898.7 393.4 L899.8 393.5 L901.0 393.3 L902.1 390.8 L903.3 389.8 L904.4 388.1 L905.6 390.0 L906.7 387.9 L907.9 386.5 L909.2 386.5 L910.4 388.1 L911.6 387.9 L912.6 389.8 L913.6 392.5 L914.6 393.8 L915.6 393.9 L916.6 396.2 L917.6 394.6 L918.6 396.8 L919.6 397.1 L920.5 399.9 L921.5 399.1 L922.5 401.8 L923.5 398.7 L924.5 397.6 L925.5 394.4" stroke="#27323a" stroke-width="1.15" fill="none" stroke-linejoin="round"/>
</svg></div>
<svg id="txt" width="1009" height="449" viewBox="0 0 1009 449">
<!-- header -->
<rect x="0" y="0" width="1009" height="17.5" fill="#fff"/>
<rect x="128" y="17" width="56" height="10.5" fill="#fff"/>
<text x="20" y="23.7" style="font-size:12px;font-weight:bold;fill:#37474f">US2000</text>
<text x="66.6" y="21.8" style="font-size:7.4px;font-weight:bold;fill:#8e8e8e;stroke:#8e8e8e;stroke-width:0.25">CFD</text>
<path d="M91.3 16.2H97.8L94.55 19.2Z" fill="#757575"/>
<text x="138" y="23" style="font-size:9.6px;fill:#4f5b62;letter-spacing:-0.4px">D1</text>
<path d="M167.2 17H174L170.6 20.2Z" fill="#757575"/>
<!-- current price label -->
<path d="M938 37.5L946.5 29H998V45.8H946.5Z" fill="#808b90"/>
<text x="949.6" y="43.2" class="ax" style="fill:#fff;stroke:#fff;stroke-width:0.35">2692.6</text>
<!-- price axis -->
<text class="ax" x="949" y="58">2626.6</text>
<text class="ax" x="949" y="93.3">2482.3</text>
<text class="ax" x="949" y="128.5">2338.0</text>
<text class="ax" x="949" y="163.6">2193.7</text>
<text class="ax" x="949" y="198.8">2049.3</text>
<text class="ax" x="949" y="234">1905.0</text>
<text class="ax" x="949" y="269.2">1760.7</text>
<text class="ax" x="949" y="299.4">1616.4</text>
<text class="ax" x="949" y="311.6">86.67523</text>
<text class="ax" x="949" y="341.8">0.00000</text>
<text class="ax" x="949" y="372.8">-86.6752</text>
<text class="ax" x="949" y="394.2">70.0</text>
<text class="ax" x="949" y="424.2">0.0</text>
<!-- countdown -->
<g style="font-size:14px">
<text x="882.6" y="285" fill="#ff9010">09</text>
<text x="899.4" y="285" fill="#b3bcc3">h</text>
<text x="912.2" y="285" fill="#ff9010">52</text>
<text x="929.4" y="285" fill="#b3bcc3">m</text>
</g>
<!-- dates -->
<text class="dt" x="3" y="436.8">11.11.2022</text>
<text class="dt" x="137" y="436.8">03.05.2023</text>
<text class="dt" x="271" y="436.8">23.10.2023</text>
<text class="dt" x="405" y="436.8">10.04.2024</text>
<text class="dt" x="539.2" y="436.8">30.09.2024</text>
<text class="dt" x="673.2" y="436.8">19.03.2025</text>
<text class="dt" x="806.4" y="436.8">08.09.2025</text>
</svg>
</body></html>
